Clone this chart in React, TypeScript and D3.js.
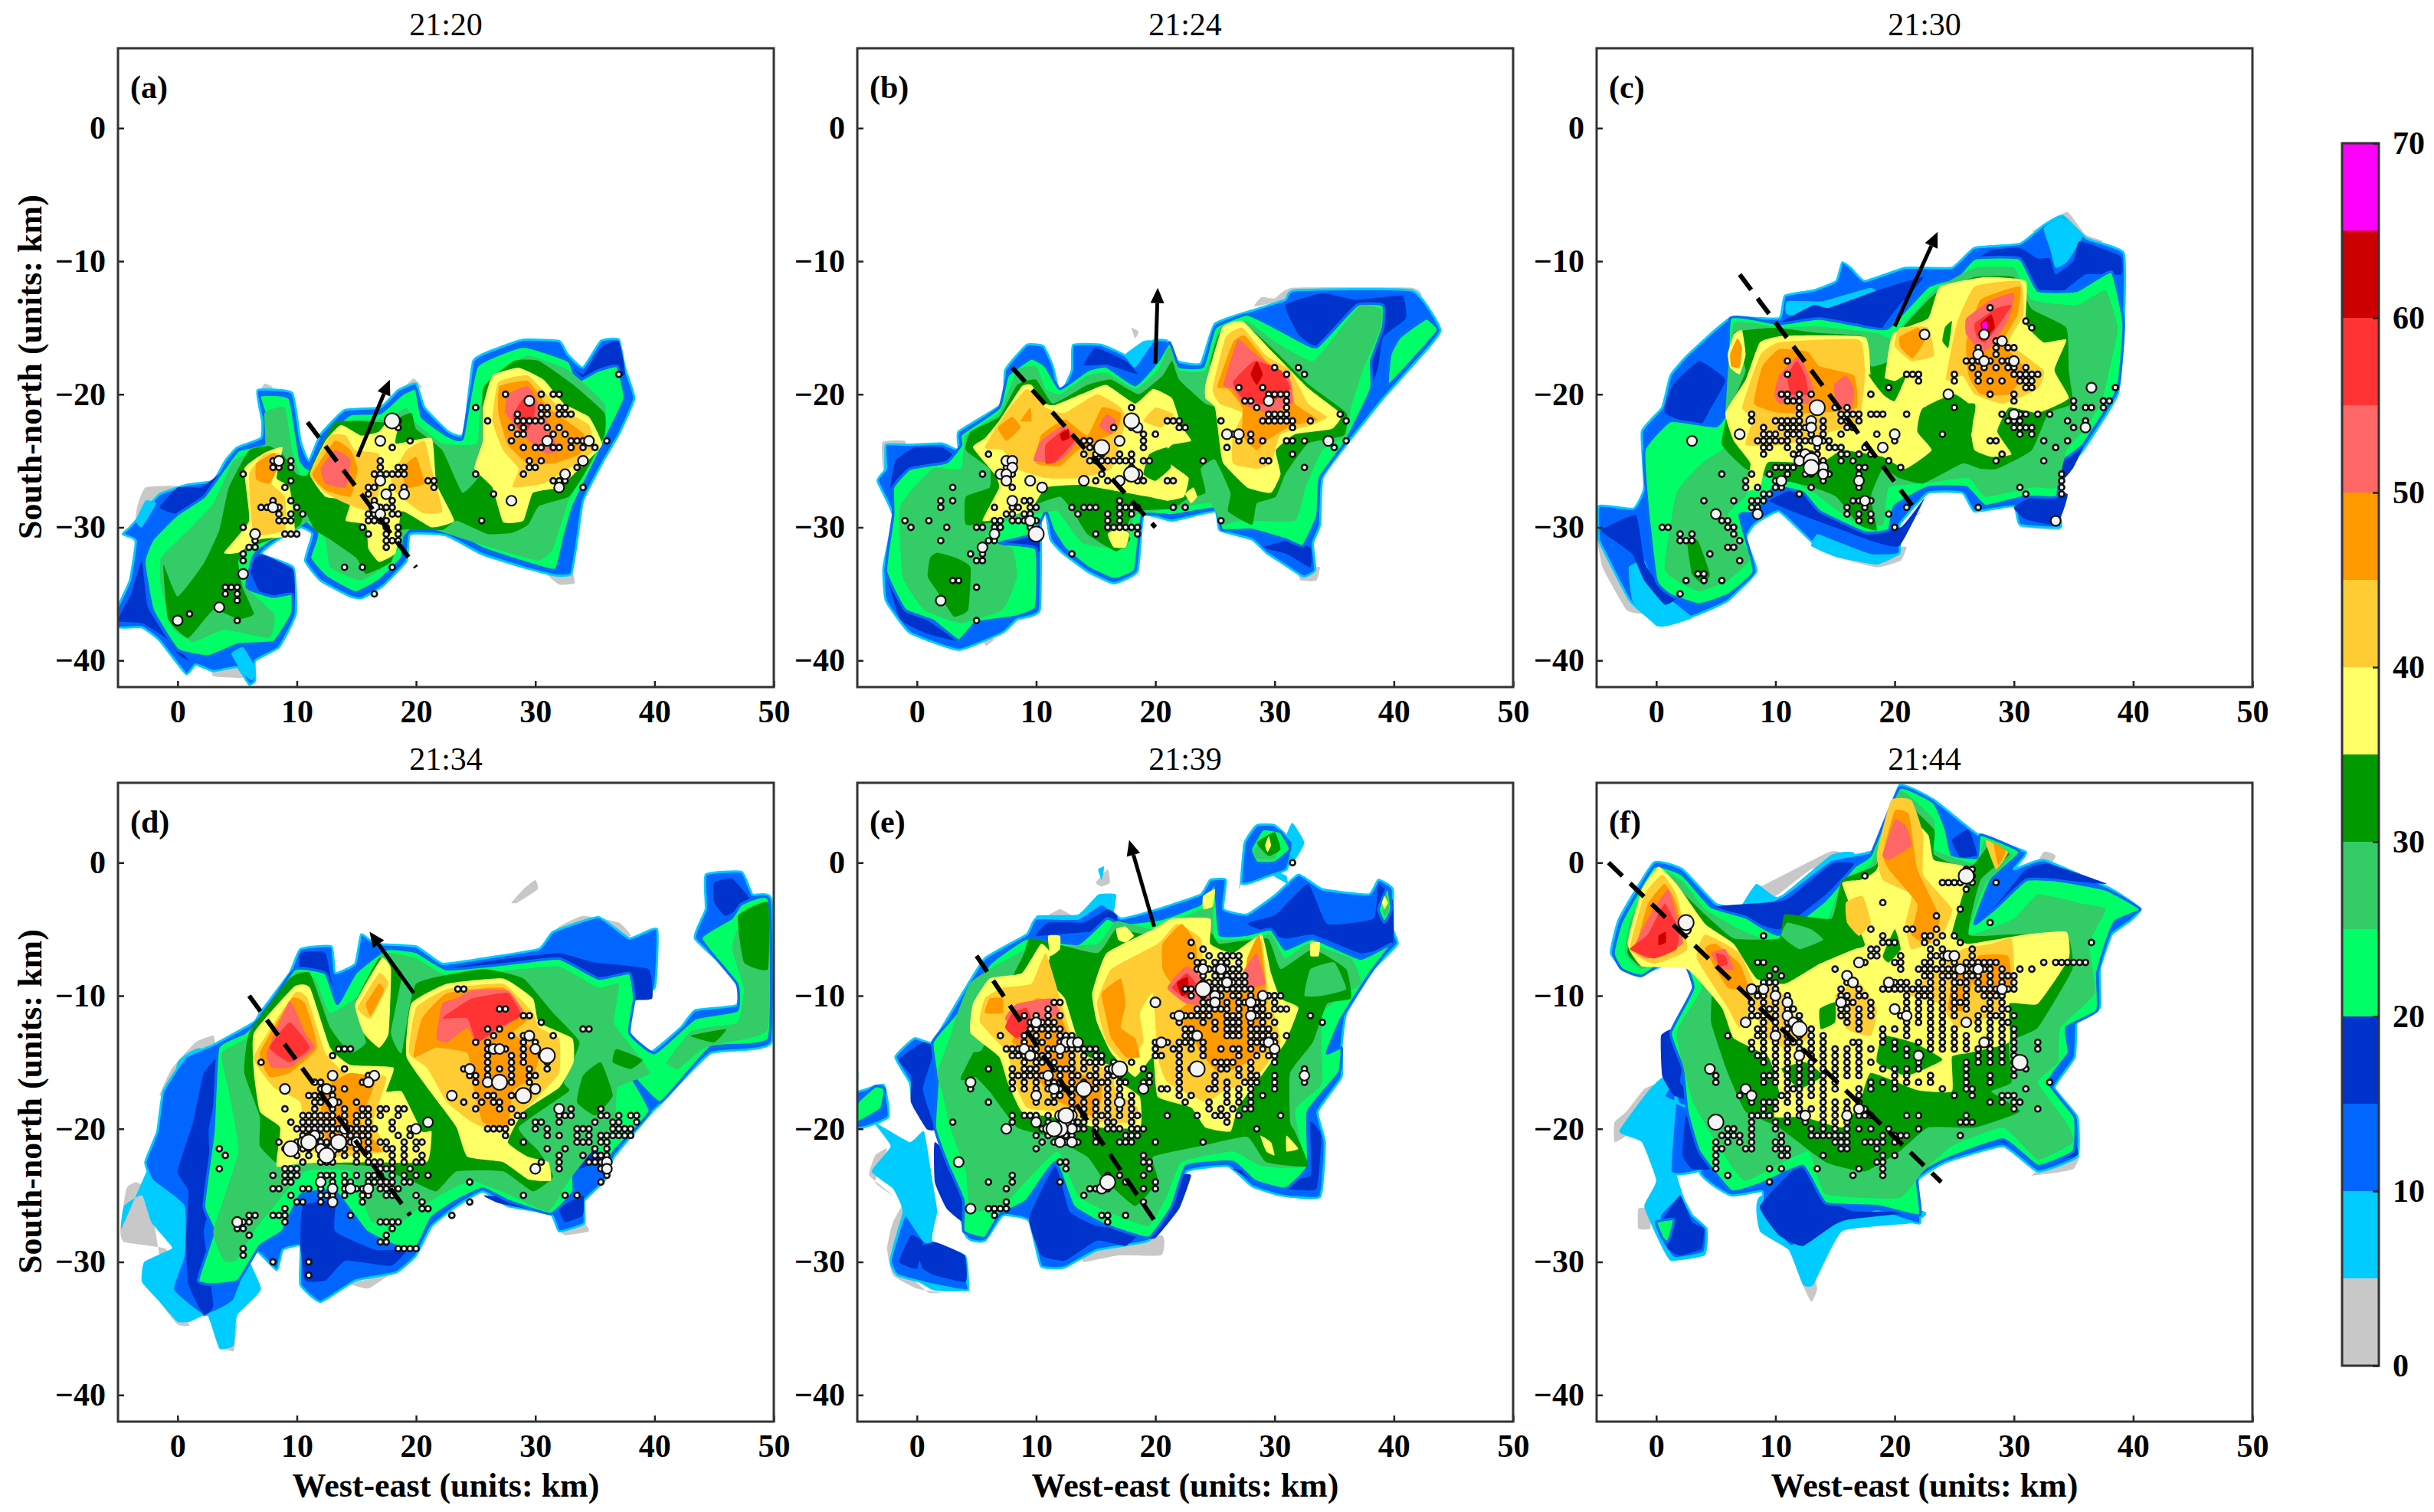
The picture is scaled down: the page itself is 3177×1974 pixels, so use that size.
import React, { useEffect, useRef } from "react";
import * as d3 from "d3";

type Ring = number[][];
type Layer = [number, Ring];
type Rows = number[][];

const xTicks = [0, 10, 20, 30, 40, 50];
const yTicks = [0, -10, -20, -30, -40];
const colorTicks = [0, 10, 20, 30, 40, 50, 60, 70];
const levels = [0, 5, 10, 15, 20, 25, 30, 35, 40, 45, 50, 55, 60, 65];
const levelColors = ["#c8c8c8", "#00ccff", "#0066ff", "#0033cc", "#00ff66", "#33cc66", "#009900", "#ffff66", "#ffcc33", "#ff9900", "#ff6666", "#ff3333", "#cc0000", "#ff00ff"];
const times = ["21:20", "21:24", "21:30", "21:34", "21:39", "21:44"];
const tags = ["(a)", "(b)", "(c)", "(d)", "(e)", "(f)"];
const dashLines = [
  [[10.9, -22.1], [20, -33]],
  [[8, -18], [20, -30]],
  [[7, -11], [22, -29]],
  [[6, -10], [19.5, -26.5]],
  [[5, -7], [20, -27]],
  [[-4, 0], [23.9, -24]],
];
const arrows = [
  [[15.1, -24.7], [17.8, -18.9]],
  [[20, -17.7], [20.2, -12]],
  [[20, -14.9], [23.6, -7.8]],
  [[19.8, -9.8], [16.1, -5.2]],
  [[19.9, -4.8], [17.8, 1.7]],
];

// 21:20 reflectivity contours, [level, outline in km]
const aLayers: Layer[] = [
  [0, [[-3.7, -31], [-3.4, -28.5], [-2.7, -27], [0, -26.9], [0, -28], [-2, -30], [-3, -31.5]]],
  [0, [[31, -33.5], [33, -33.2], [33.3, -34.2], [32, -34.3]]],
  [0, [[3, -40.5], [3, -41.2], [5.5, -41.3], [5.5, -40.5]]],
  [0, [[6.8, -20], [7.3, -19.2], [8, -19.5]]],
  [0, [[19, -19.5], [19.8, -18.8], [20.5, -19.5]]],
  [10, [[-5, -36], [-4, -34], [-3.5, -31], [-4.6, -30.5], [-4, -30], [-3, -29], [-1.5, -27.5], [0.8, -26.8], [3, -26.5], [4, -25], [5, -24], [7, -23.3], [7.1, -22], [6.7, -19.7], [9.6, -19.9], [10.3, -23.5], [11, -25], [12, -23], [14, -21.2], [17, -21], [18.5, -19.7], [20, -19.2], [20.7, -21], [22.7, -22.8], [24, -23], [24.8, -17.5], [27, -16.5], [29, -15.9], [32, -16], [32.7, -17], [34, -18], [35.5, -16], [37, -15.9], [37.5, -18], [38.3, -20.3], [37, -23], [35.7, -25], [34, -28], [33.5, -31], [33, -33.5], [31.6, -33.6], [29, -33], [25.5, -32], [22.5, -30.6], [19.5, -30.5], [19.2, -32.5], [17.2, -34.4], [15.5, -35.3], [14.5, -35.2], [12, -34], [10.7, -32.5], [11.3, -30.5], [10.3, -30], [8.3, -31], [7, -32], [9.7, -33], [9.9, -36.5], [8.5, -39], [6.5, -40], [6.5, -41.5], [6, -41.8], [5, -40.5], [3, -40.8], [1.5, -40.3], [0.7, -41], [-1.5, -38.5], [-3, -37.5], [-5, -37.5]]],
  [15, [[-5, -37], [-3.9, -35], [-3, -32.5], [-2.5, -36], [0, -39.5], [1, -40], [-1, -38.3], [-3, -37.2]]],
  [15, [[-1.5, -28.5], [0, -27], [2, -27], [3.5, -26], [4, -26.5], [2, -28], [0, -29]]],
  [15, [[6, -33], [7, -32], [9.7, -33.2], [9.7, -36], [7, -35]]],
  [15, [[32.5, -17.5], [34, -18.5], [35.5, -16.5], [37, -16], [37.5, -18.5], [35, -19.5]]],
  [5, [[-3.5, -29.5], [-2.7, -28], [-1.8, -28.2], [-3, -30]]],
  [5, [[4.5, -39.5], [5.5, -39], [6.5, -40.5], [6.3, -41.5], [5.5, -41]]],
  [20, [[-2.8, -32.6], [-2.1, -30.9], [0, -29], [2.2, -27.7], [3.9, -25.6], [5.1, -24.2], [7.3, -23.7], [7.6, -22.3], [6.9, -20.1], [9.4, -20.3], [10.3, -24.9], [11.1, -25.6], [12.4, -23.1], [14.5, -21.5], [17, -21.4], [18.8, -20], [20, -19.6], [20.5, -21.7], [22.6, -23.1], [23.9, -23.3], [25.1, -17.9], [29, -16.4], [32.8, -17.5], [33.5, -19], [35.3, -18.2], [36.9, -17.9], [37.5, -20.3], [36.2, -22.8], [35.1, -24.9], [33.2, -28.4], [32.4, -30.9], [31.7, -33.2], [29, -32.6], [25.6, -31.6], [22.6, -30.2], [19.2, -30.2], [18.8, -32.3], [16.9, -34], [14.9, -34.9], [12.4, -33.7], [11.1, -32.3], [11.7, -30.5], [10.3, -29.5], [8.1, -30.9], [6.4, -32.1], [5.8, -34.5], [8, -35.2], [9.6, -35], [9.6, -36.5], [8.1, -38.6], [5.1, -38.8], [2.6, -39.7], [0, -39.2], [-2.1, -36.2]]],
  [25, [[-1.4, -32.3], [0.9, -30.2], [3, -28.2], [4.7, -25], [7.3, -24], [7.3, -21.4], [9, -21], [9.6, -24.2], [10.3, -26], [11.1, -26], [12.8, -22.8], [14.9, -21.9], [17.5, -21.9], [19.2, -21], [19.8, -22], [22.2, -23.7], [25.1, -23.7], [25.4, -20.7], [27.3, -18.2], [29.4, -17.1], [32.8, -18.2], [35.8, -20.7], [35.8, -22.8], [34.7, -25.2], [32.8, -28], [31.5, -31.6], [30.3, -32.5], [27.3, -31.8], [23.4, -30.7], [20, -29.8], [18.8, -30.9], [17.9, -32.6], [15.4, -34], [12.8, -33], [12.4, -30.9], [11.1, -29.5], [9.4, -30.5], [6.4, -31.4], [5.1, -32.6], [5.6, -34.4], [8.1, -36.5], [7.7, -38.3], [3.9, -37.7], [1.3, -38.6], [-0.4, -37.6], [-1.4, -34.4]]],
  [30, [[-1.2, -32.8], [0, -35.2], [2.2, -32.7], [3.5, -30.2], [4.3, -27], [6, -24.2], [7.7, -23.9], [8.8, -24.5], [10, -26], [10.9, -26], [13.2, -22.1], [17.5, -22.1], [19.6, -21.4], [20, -22.6], [22.2, -24.2], [23.9, -27.4], [25.6, -25.6], [25.6, -19.6], [28.2, -17.5], [30.3, -17.5], [33.2, -19.3], [35.8, -21.4], [35.8, -23.1], [34.1, -26], [32.8, -27.7], [30.3, -28.4], [29.4, -29.8], [28.1, -30.4], [26, -30.5], [23.4, -29.5], [22.2, -30.2], [18.8, -30.2], [17.9, -32.6], [15.8, -33.5], [15, -32.3], [12.8, -30.9], [11.5, -30.2], [10.7, -28.8], [10.3, -29.8], [9, -30.5], [6.4, -31.4], [5.1, -32.5], [5.4, -34.4], [6.4, -36.5], [5.1, -36.9], [3, -36.2], [0.9, -38.3], [-0.8, -36.9]]],
  [35, [[3.9, -31.9], [6, -29.5], [5.6, -25.6], [7.3, -24.4], [8.8, -24], [8.3, -26.3], [9.4, -27], [9.8, -30.5], [6.9, -30.9], [5.1, -31.9]]],
  [35, [[11.1, -26], [12.4, -23.5], [13.7, -22.3], [15.4, -23.1], [16.9, -22.8], [17.9, -21.7], [18.6, -22], [18.3, -23.7], [21.3, -23.3], [21.7, -26.7], [23.2, -29.5], [21.3, -30], [18.8, -28.8], [18.3, -31.9], [16.9, -32.6], [16, -31.6], [15.8, -29.8], [14.1, -29.5], [14.5, -28], [12.4, -27.7]]],
  [35, [[24.9, -25.6], [25.6, -23.5], [25.6, -21], [26.4, -18.6], [28.6, -18], [30.7, -18.9], [32.4, -20.7], [34.5, -21.7], [35.6, -23.8], [33.7, -25.6], [32, -27], [29.8, -27.4], [29, -29.5], [27.3, -29.6], [26.4, -27]]],
  [40, [[6.4, -30.5], [6, -26], [7.3, -24.5], [8.6, -24.5], [7.9, -26.7], [9, -27.7], [9, -30.2]]],
  [40, [[11.1, -26], [12.8, -23.1], [14.1, -23.1], [14.9, -24.2], [16.9, -24.5], [17, -27], [16.2, -28.8], [14.1, -28.2], [12.4, -27.4]]],
  [40, [[17.9, -26.3], [19.2, -24.2], [20.7, -23.5], [21.3, -25.6], [22.2, -28.8], [20.5, -28.9], [18.3, -27.4]]],
  [40, [[26.4, -22], [26.9, -19.1], [29.4, -18.6], [32, -21], [34.5, -22.3], [34.9, -24.2], [32.8, -25.6], [30.7, -26.7], [28.1, -27], [28.6, -25.6], [27.3, -24.2]]],
  [45, [[6.6, -25.2], [8.1, -24.4], [8.6, -25.2], [7.7, -26.7], [6.6, -26.4]]],
  [45, [[11.3, -26], [13.2, -23.5], [14.5, -24.2], [15.1, -25.6], [14.5, -27.7], [12.4, -27.2]]],
  [45, [[18.8, -25.6], [20, -24.7], [20.7, -26.7], [19.2, -27]]],
  [45, [[26.9, -21.4], [27, -19.4], [29.4, -19], [31.1, -21], [34.1, -23], [33.7, -24.5], [31.5, -25.2], [29.4, -25.2], [27.7, -23.8]]],
  [50, [[12, -25.6], [13.2, -24.2], [14.5, -24.9], [14.1, -27], [12.4, -26.7]]],
  [50, [[27.5, -21.4], [27.7, -20], [29.4, -19.4], [30.7, -21.4], [32, -24.2], [30.7, -24.4], [29, -23.1]]],
  [55, [[28.1, -21.7], [29, -20.3], [30, -20.7], [29.8, -22], [29, -23.1]]],
];
const aSmall: Rows = [
  [-18.5, 37], [-20, 27.5, 30.5, 31.5, 32], [-21, 25, 30.5, 31, 32, 32.5], [-21.5, 28.5, 30.5, 31, 32, 32.5, 33],
  [-22, 18.5, 26, 28.5, 29, 29.5, 30, 30.5], [-22.5, 28, 29, 31, 32, 18.5], [-23, 28.5, 29, 31.5, 32.5], [-23.5, 19.5, 28, 31, 33, 33.5, 34, 36],
  [-24, 18, 29, 30, 30.5, 31.5, 32, 33, 34, 35], [-25, 8, 9.5, 17, 29.5, 30.5, 34], [-25.5, 8, 8.5, 9.5, 17, 18.5, 19, 29.5, 30, 33.5],
  [-26, 5.5, 16.5, 17, 17.5, 18, 18.5, 19, 25, 29], [-26.5, 9.5, 17, 21, 21.5, 31.5, 32, 32.5], [-27, 9, 16, 16.5, 18, 19, 21.5, 32, 34],
  [-27.5, 16, 26.5], [-28, 8, 9.5, 16.5, 18], [-28.5, 7, 7.5, 8.5, 10, 16.5, 17, 17.5, 18], [-29, 8.5, 9.5, 10.5, 16, 16.5, 17, 18, 18.5],
  [-29.5, 8.5, 9, 9.5, 16, 16.5, 17, 17.5, 25.5], [-30, 5.5, 15.5, 17.5, 18.5], [-30.5, 9, 9.5, 10, 16, 17.5, 18.5], [-31, 6.5, 17.5, 18, 18.5],
  [-31.5, 6, 6.5, 17.5], [-32, 5.5], [-32.5, 5.5], [-33, 14, 15.5, 18], [-34.5, 4, 4.5, 5], [-35, 4, 5, 16.5], [-35.5, 5], [-36.5, 1], [-37, 5],
];
const aMedium: Rows = [
  [-20.5, 29.5], [-22, 18], [-23.5, 17, 31, 34.5], [-25, 8.5, 34], [-26, 32.5], [-26.5, 17], [-27, 32], [-27.5, 17.5, 19], [-28, 28],
  [-28.5, 8, 16.5], [-29, 17], [-30.5, 6.5], [-33.5, 5.5], [-36, 3.5], [-37, 0],
];
const aBig: Rows = [[-22, 18]];

// 21:24
const bLayers: Layer[] = [
  [0, [[-2.8, -26], [-2.9, -23.6], [-1, -23.5], [-1, -24.5], [-2.3, -26]]],
  [0, [[28.3, -13.4], [28.9, -12.7], [30, -12.8], [31.5, -12], [41.5, -12], [42, -12.8], [31, -13]]],
  [0, [[32, -33.5], [32.2, -34], [33.5, -34], [33.8, -33], [33, -33]]],
  [0, [[5.5, -38.3], [5.8, -38.9], [6.5, -38.4]]],
  [0, [[18, -15], [18.3, -15.8], [18.6, -15.3]]],
  [5, [[-2.7, -26], [-2.6, -23.8], [-0.6, -23.8], [-0.5, -25], [-1.8, -25.5]]],
  [5, [[17.5, -17], [19, -16], [19.8, -16], [19.5, -17.5], [18.3, -18]]],
  [10, [[-3.3, -26.5], [-2.6, -25.6], [-2.6, -23.8], [-0.6, -23.8], [2.1, -23.7], [3.5, -24.2], [3.5, -22.8], [7.2, -20.7], [7.4, -18.2], [9.2, -16.3], [10.6, -16.4], [11.4, -17.9], [12, -20], [13, -18.2], [13.1, -16.3], [15.5, -16.3], [17.5, -17.1], [18.3, -17.9], [19.8, -16], [21, -16], [21.8, -17.5], [23.8, -17.7], [25, -14.7], [28.5, -13.6], [30.9, -12.9], [31.7, -12.2], [41.5, -12.2], [43.9, -15.2], [41.9, -17.5], [39.1, -20.3], [36, -23.8], [34, -26.3], [33.8, -29.8], [33.2, -31.2], [33.4, -33.2], [32.4, -33.7], [30.5, -32.6], [29.3, -31.9], [28.1, -30.9], [25.4, -30.2], [25, -28.8], [21.4, -29.5], [19, -29.1], [18.5, -33.3], [16.5, -34.2], [14.3, -33.3], [12.2, -31.9], [11.2, -30.9], [10.8, -28.8], [10.4, -29.1], [10.3, -36.2], [8.4, -36.9], [7.2, -37.9], [3.5, -39.2], [-0.6, -37.9], [-2.6, -35.5], [-2.8, -33], [-2, -29.1]]],
  [15, [[-2.2, -27], [-1.8, -25], [-0.2, -24], [2.1, -24], [3.3, -24.8], [2.5, -25.4], [0, -25.5], [-1, -26.5]]],
  [15, [[-2.6, -33.3], [-1, -34], [0.2, -36.5], [3.3, -38.5], [0.9, -38], [-1.4, -36.9]]],
  [15, [[30.9, -13.3], [34, -12.4], [36.8, -12.9], [40.7, -12.6], [41, -14.3], [39.1, -15.7], [38.7, -17.9], [38, -19.6], [37, -19], [38.5, -15], [38, -13.5], [36.5, -13.5], [33.6, -16.4], [32, -15.5]]],
  [15, [[6.8, -31], [10, -29.5], [10.3, -31.8], [8.5, -31.5]]],
  [15, [[15, -16.5], [17.5, -17.5], [18.5, -18.5], [16, -17.8], [14, -17.8]]],
  [15, [[29, -31.5], [31, -31], [33, -31.5], [33, -33], [31, -32]]],
  [20, [[-2, -27], [-0.6, -25.6], [2.5, -25.1], [3.7, -23.8], [3.7, -23], [6.9, -21], [7.6, -18.6], [9.6, -17.3], [10.8, -17.9], [12, -19.6], [14.3, -18.2], [15.9, -17.9], [18.3, -19.3], [20.2, -17.5], [21.2, -16.1], [22, -17.9], [24, -17.9], [25, -15], [27.7, -14], [30.1, -15], [32.4, -16.1], [33.6, -16.4], [36.9, -13.3], [39.1, -13.3], [39.1, -15], [38.1, -17.5], [38.1, -19.6], [36, -23.5], [33.8, -26.3], [33.6, -29.1], [32.4, -31.4], [30.9, -30.9], [28.1, -30.2], [25.6, -30.2], [25, -28.6], [21.4, -29.1], [18.9, -29.1], [18.3, -33.2], [16.5, -33.9], [14.3, -33], [12.4, -31.6], [11.4, -30.2], [10.8, -28.8], [9.8, -30.5], [6.9, -31.2], [10, -31.6], [10, -36], [8.4, -36.7], [6.9, -36.9], [4.9, -37.2], [3.5, -38.5], [1.3, -37], [-1, -36.2], [-2.6, -33.3], [-2, -29.1]]],
  [20, [[40.5, -15.7], [42.7, -14.3], [43.7, -15.2], [41.5, -17.5], [39.5, -19.3], [39.7, -17]]],
  [25, [[-1.4, -28.4], [1.3, -25.6], [3.7, -25.6], [4.1, -23.1], [6.9, -21.4], [8.4, -18.2], [10, -17.9], [10.8, -19.6], [12, -20], [14.3, -18.6], [15.9, -18.4], [18.3, -19.6], [20.2, -18.2], [21.2, -16.4], [22, -18.2], [24.2, -18.2], [25.4, -15], [27.7, -14.5], [30.1, -16.1], [33.2, -17.5], [35.6, -15], [37.2, -13.3], [38.9, -13.6], [38.9, -15], [37.4, -18.2], [36.4, -21], [36, -23.1], [34, -24.2], [32.6, -27], [31.7, -29.5], [27.3, -29.5], [25.6, -29.8], [24.6, -28.2], [21.4, -28.6], [18.3, -29.1], [17.5, -31.6], [13.9, -31.2], [11.8, -28.8], [9.6, -29.1], [6.5, -29.8], [5.7, -30.9], [8, -31.6], [8.4, -33.7], [7.2, -36.2], [3.7, -37.2], [0.6, -36.2], [-1.2, -33.7]]],
  [30, [[1.1, -32.3], [1.7, -31.9], [3.3, -32.3], [4.5, -33], [4.3, -36.2], [3.1, -36.7], [1.7, -34.8], [0.9, -33.7]]],
  [30, [[4.1, -29.8], [4.1, -27.7], [6.1, -27], [6.1, -25.6], [4.1, -24.2], [4.5, -22.8], [6.9, -21.7], [8.4, -19.3], [10, -18.9], [11.4, -20.7], [14.3, -19.3], [16.3, -18.9], [18.6, -20], [20.6, -18.6], [21.4, -17.5], [22, -18.9], [24.2, -20.7], [26.1, -21], [24.6, -17.9], [25.4, -15.4], [27.7, -14.9], [30.1, -16.8], [32.9, -19.3], [36, -21.4], [35.8, -23.1], [32.8, -23.7], [30.9, -26], [30.1, -27.7], [28.5, -28.2], [28.1, -29.8], [26.1, -28.8], [26.3, -27.4], [25, -24.9], [23.8, -25.6], [24.2, -27.4], [22.6, -27.9], [21.4, -28.6], [18.3, -28.8], [17.5, -30.2], [17.9, -30.9], [16.7, -31.8], [14.3, -30.5], [13.1, -28.8], [12, -27.7], [9.6, -28.4], [6.5, -29.6]]],
  [35, [[4.7, -24], [5.7, -23.3], [6.9, -22], [8.8, -19.4], [9.6, -19.3], [10.8, -20.7], [11.6, -20.8], [14.3, -19.8], [15.9, -19.3], [18.3, -20.7], [19.8, -19.6], [21.4, -20.3], [22.2, -22.4], [23, -23.5], [21.4, -23.8], [20.6, -24.7], [21.8, -25.6], [22.8, -26.3], [22.4, -27.7], [21, -28], [19.4, -27.7], [15.1, -27], [13.5, -26.8], [10.8, -27], [9.6, -28.6], [7.2, -29.3], [5.5, -29.5], [6.9, -27], [6.5, -26]]],
  [35, [[16, -30.5], [17, -30], [17.8, -30.5], [17.5, -31.5], [16.5, -31.5]]],
  [35, [[22.5, -27.5], [23.2, -27], [23.5, -27.7], [23, -28.2]]],
  [35, [[24.2, -19.3], [25.6, -15], [27.3, -14.5], [29.8, -16.8], [32.9, -19.6], [35.6, -21.5], [34.8, -22.6], [31.7, -23], [30.1, -24.2], [30.5, -26], [29.7, -27.4], [27.7, -27], [25.7, -25.2], [25.4, -23.8], [25, -21], [24.2, -20.3]]],
  [30, [[19.5, -24.5], [21, -24], [21.3, -25.5], [20, -26.5], [19, -26]]],
  [40, [[5.7, -24], [7.2, -21.7], [9.2, -19.6], [10.8, -21], [12.4, -21.4], [15.1, -20], [17.1, -21], [17.5, -22], [16.3, -25.6], [13.5, -26.3], [10.8, -26.3], [8.4, -25.6], [7.2, -24.2]]],
  [40, [[19, -22], [20, -21], [21.5, -21.5], [20.5, -22.5]]],
  [40, [[24.8, -19.6], [25.9, -15.7], [27.3, -15], [29.3, -17.1], [31.3, -18.2], [32.8, -20.7], [34.4, -21.7], [33.2, -22.3], [30.5, -23], [29.7, -25.2], [28.5, -25.6], [26.5, -25.2], [26.5, -23.1], [27.3, -21.4], [25.4, -20.7]]],
  [45, [[10, -25.2], [10.4, -23.1], [12.4, -21.9], [14.3, -23.1], [15.5, -21], [17.1, -21.4], [16.7, -22.8], [13.5, -24.2], [12, -25.4]]],
  [45, [[6.8, -22.5], [8, -21.7], [8.7, -22.5], [7.5, -23.5]]],
  [45, [[8.7, -22], [9.5, -21], [9.6, -22]]],
  [45, [[25.2, -19.4], [26.5, -16.1], [27.5, -15.6], [29.3, -17.5], [31.1, -18.6], [31.7, -20.7], [33.6, -21.9], [31.3, -22.4], [29.3, -23.5], [28.5, -24.2], [27.3, -23.1], [27.3, -21], [26.1, -19.6]]],
  [50, [[9.8, -25], [10.4, -23.5], [12.4, -22.3], [13.5, -23.5], [12, -25]]],
  [50, [[15.3, -22.4], [15.9, -21.5], [16.7, -22], [16.3, -23]]],
  [50, [[25.7, -19.3], [26.9, -15.9], [27.9, -16.6], [29.7, -17.9], [31.3, -18.9], [31.5, -20.7], [29.3, -21.4], [27.3, -20.7], [26.5, -19.6]]],
  [55, [[10.8, -25.2], [10.8, -23.8], [12.4, -22.6], [13.2, -23.5], [11.6, -25.1]]],
  [55, [[26.5, -19.1], [28.3, -17.5], [30.5, -18.2], [31.3, -19.6], [29.3, -20.8], [27.3, -20.3]]],
  [60, [[28, -18.5], [28.5, -17.5], [29, -18.5], [28.5, -19.3]]],
  [60, [[12, -23], [12.7, -22.6], [12.8, -23.3], [12.2, -23.5]]],
];
const bSmall: Rows = [
  [-18, 30, 32], [-18.5, 31, 32.5], [-19.5, 27, 29], [-20, 29.5, 30, 30.5, 31], [-20.5, 27.5, 28, 31], [-21, 18, 28.5, 31],
  [-21.5, 29.5, 30, 30.5, 31, 35.5], [-22, 21, 21.5, 22, 25.5, 29, 29.5, 30, 30.5, 31, 31.5, 33, 36], [-22.5, 16.5, 18, 18.5, 22, 22.5, 31.5],
  [-23, 19, 20, 26.5, 28], [-23.5, 14, 14.5, 19, 27, 28, 29, 31, 31.5, 32.5, 36], [-24, 14.5, 15, 15.5, 19, 26, 35], [-24.5, 6, 14, 15, 15.5, 17, 18, 31.5],
  [-25, 7.5, 8, 14.5, 15, 15.5, 16, 16.5, 17, 17.5, 18, 19, 19.5, 24, 29, 29.5], [-25.5, 7.5, 8, 18, 32.5], [-26, 5.5, 7, 7.5, 8, 18, 18.5, 15.5],
  [-26.5, 7.5, 14, 15, 16, 17, 18.5, 19, 21, 21.5], [-27, 3, 8], [-28, 2, 3, 9, 9.5, 17], [-28.5, 2, 6.5, 8, 8.5, 9.5, 10, 13, 14, 14.5, 15, 17, 17.5, 18, 18.5, 21.5, 22.5],
  [-29, 7.5, 8, 9, 9.5, 13.5, 16, 17, 18], [-29.5, -1, 1, 6.5, 7, 8, 8.5, 9, 9.5, 10, 16, 17, 25.5], [-30, -0.5, 2.5, 5, 5.5, 6.5, 7, 9.5, 16, 16.5, 17, 17.5, 18, 18.5],
  [-30.5, 15, 18.5], [-31, 2, 6, 6.5], [-31.5, 5.5], [-32, 4.5, 5.5, 13], [-32.5, 5, 5.5], [-34, 3, 3.5], [-34.5, 5], [-37, 5],
];
const bMedium: Rows = [
  [-20.5, 29.5], [-22, 18], [-22.5, 18.5], [-23, 26, 27], [-23.5, 17, 34.5], [-24, 15.5], [-25, 7.5, 8], [-25.5, 8], [-26, 7, 7.5, 18.5], [-26.5, 7.5, 9.5, 14, 17],
  [-27, 10.5], [-28, 8], [-29.5, 9.5], [-30.5, 6.5], [-31.5, 5.5], [-35.5, 2],
];
const bBig: Rows = [[-22, 18], [-24, 15.5], [-26, 18], [-30.5, 10]];

// 21:30
const cLayers: Layer[] = [
  [0, [[-5, -30.5], [-4, -32.5], [-2, -35.5], [-1, -36.5], [-2.5, -36.2], [-4.5, -33]]],
  [0, [[31.5, -7.8], [33, -7], [34.5, -6.3], [36, -8], [37.5, -8.5], [36, -8.7], [34, -7.5]]],
  [0, [[15, -32.2], [18.5, -33], [20.5, -32.5], [21, -31.5], [20.5, -31.5], [18.5, -32.5]]],
  [0, [[30.5, -30], [33.8, -30.2], [33.8, -29.7], [31, -29.7]]],
  [10, [[-4.8, -28.4], [-1.9, -28.6], [-1, -27], [-1.2, -22.8], [0.5, -21], [1.2, -18.6], [2.6, -17.1], [6.2, -14.3], [10.3, -14.3], [10.8, -12.6], [13.2, -12.2], [15.1, -11.5], [15.6, -10.1], [16.3, -10.5], [17.5, -11.5], [20.9, -10.5], [24.8, -10.5], [26.7, -9], [30.5, -8.7], [32.5, -7.3], [34.1, -6.6], [36.1, -8.3], [39.2, -9.4], [39.2, -15], [38.7, -20], [35.8, -24.2], [34.4, -25.6], [33.7, -28.4], [33.9, -30], [30.5, -29.8], [30, -28.4], [26.7, -28.8], [25.7, -27.4], [22.8, -27.4], [20.4, -29.8], [20.4, -31.9], [18.5, -32.5], [15.1, -31.9], [13.2, -31.2], [10.3, -28.8], [8.2, -29.8], [7.5, -30.9], [8.4, -33.3], [6, -35.5], [3.6, -36.5], [1.4, -37.2], [0, -37.2], [-2.2, -35.5], [-4.3, -31.9], [-4.8, -30.9]]],
  [5, [[32.5, -7.5], [34, -6.7], [35.8, -8], [34.5, -10], [33.5, -10.5], [33, -9]]],
  [5, [[-2.3, -33], [-1, -32.5], [0, -34.5], [2, -36], [3, -36.8], [1, -37.4], [0, -37.4], [-2, -35.5]]],
  [5, [[13.5, -30.5], [15, -31], [18, -32], [20, -32], [20.5, -32], [18.5, -32.8], [15, -32.2], [13, -31.4]]],
  [5, [[11, -13], [14, -13], [18, -12], [19, -13], [15, -14.5], [11, -14]]],
  [15, [[-4.6, -30.2], [-1.7, -29.1], [-1, -32.6], [0, -34], [1.7, -35.3], [0.7, -35.8], [-1, -34], [-2, -32], [-3.5, -31]]],
  [15, [[0.7, -21.4], [1.4, -19.3], [3.6, -17.5], [5.8, -18.9], [4.6, -21], [3.6, -22.4]]],
  [15, [[10.3, -14.7], [13.2, -13.3], [14.5, -13.5], [18.5, -12.2], [22.4, -11.2], [20.4, -13.3], [19, -15], [18.5, -17.5], [18, -16], [17, -14.7], [13.2, -14.5]]],
  [15, [[26.2, -10.3], [28, -9.2], [30.5, -9], [32, -9.8], [33, -9.8], [33.5, -11], [35, -10], [35.5, -8.5], [38.9, -9.6], [39, -11], [36, -11], [33.7, -12.5], [31.5, -12], [30, -10.8], [27, -10.7]]],
  [15, [[9.5, -28], [12, -27], [15, -28], [17.5, -29.5], [20.5, -30], [22.5, -27.8], [20.4, -31.4], [18, -31], [15, -30], [12, -29]]],
  [15, [[30, -28.5], [32, -27.5], [34.5, -27.5], [33.6, -29.8], [31, -29.4]]],
  [15, [[34.3, -24], [36, -23.5], [35, -25.5], [34, -26.5]]],
  [20, [[0, -34], [-0.7, -28.8], [-1, -24.2], [1.2, -22], [5, -22.4], [6, -21], [6.2, -14.3], [10.3, -14.7], [13.7, -14.3], [18, -15], [19.5, -15], [22.8, -11.9], [25.2, -11.2], [26.7, -9.8], [30.5, -9.8], [32, -12.2], [35.3, -12.2], [38.2, -10.8], [39.2, -14.7], [38.7, -19.6], [35.8, -23.8], [33.9, -25.2], [33.6, -27.7], [31, -27.7], [27.6, -28.4], [26, -27], [22.8, -27], [20, -28.4], [19.5, -30.2], [17.5, -30.4], [13.7, -28.8], [12.3, -27.4], [9.9, -27], [8.4, -28.9], [7, -29.1], [8.2, -33.3], [6, -35.1], [3.6, -35.8], [1.2, -35.1]]],
  [25, [[0.7, -33], [1.7, -27.4], [3.8, -25.2], [6, -23.8], [5.8, -21.4], [6.5, -14.7], [10.3, -15], [13.7, -14.9], [18.5, -15.4], [19.7, -15.7], [23.3, -12.2], [26.7, -10.5], [30, -10.5], [31.5, -12.9], [35.3, -13.3], [37.7, -12.2], [38.7, -15], [38, -18.2], [37.3, -20.7], [35.8, -22.8], [34.4, -24.2], [33.6, -27], [31.5, -27], [27.6, -27.7], [26.2, -26.3], [22.4, -26.7], [19.5, -27], [19, -29.8], [16.6, -29.6], [13.2, -27.4], [10.8, -26.3], [7.9, -26.3], [7.5, -27.7], [6, -29.1], [7.9, -32.3], [6, -34], [3.6, -34.8], [1.7, -34]]],
  [30, [[2.6, -31], [3.5, -31], [4.5, -33.5], [4, -34.3], [3, -33.5]]],
  [30, [[6.5, -15.4], [9.9, -15], [13.7, -15.4], [17.5, -15.7], [18, -17.9], [19.5, -17.5], [20, -15.7], [23.3, -12.5], [26.7, -11.2], [30, -11.2], [31.5, -13.6], [34.4, -15], [34.6, -18.2], [34.9, -20.7], [32.9, -21.4], [31.5, -24.2], [28.6, -25.6], [27.2, -25.6], [25.7, -25.2], [22.4, -26.7], [20.4, -26.3], [19, -25.6], [18, -27.7], [18.5, -30.2], [17, -29.8], [15.1, -27.7], [13.2, -27], [9.9, -26.3], [7.5, -25.6], [5.5, -23.8], [6, -21.4], [7.5, -18.2]]],
  [35, [[5.8, -21.4], [7.5, -18.9], [8.7, -16.1], [10.8, -15.6], [17.5, -15.7], [18, -18.6], [19, -19.6], [19.8, -15.5], [22.8, -14.3], [23.8, -11.9], [27.6, -11.2], [31, -11.5], [31, -14.7], [32.5, -16.1], [34.4, -15.9], [33.4, -18.2], [34.6, -20.3], [32, -21.4], [29.6, -21], [28.6, -22.8], [29.8, -24.5], [28.1, -24.7], [26.7, -24.2], [26.4, -22.8], [26.7, -20.7], [22.4, -21], [21.9, -22.8], [23.1, -24.2], [20.9, -25.6], [19, -24.7], [15.6, -24.2], [13.7, -25.2], [9.4, -25.1], [8.7, -27], [7.5, -27.2], [7.9, -25.2], [6.5, -23.5]]],
  [35, [[6, -17], [6.5, -15.5], [7.2, -15.2], [7.5, -17], [7, -18.5], [6.2, -18]]],
  [30, [[22.5, -21], [25, -20], [26.5, -21], [26.4, -23], [24, -24], [22.5, -23]]],
  [30, [[17.8, -18.5], [20, -19], [21, -18.5], [20, -20.5], [19, -20]]],
  [30, [[24.2, -15], [24.8, -14.5], [24.5, -16.5], [24, -16]]],
  [40, [[7.2, -21], [8.7, -17.1], [10.3, -16.1], [17, -15.9], [17.5, -18.6], [17, -22.1], [14.7, -22.8], [10.8, -23.8], [7.5, -23.8], [8.2, -21.7]]],
  [40, [[20.4, -15], [22.8, -15], [23.3, -17.1], [21.4, -17.5], [20, -16.4]]],
  [40, [[24.3, -18.9], [25.2, -14.7], [26.7, -11.9], [30.5, -11.5], [30.8, -14], [29.6, -16.1], [32.5, -18.2], [32, -19.6], [29.1, -20.7], [26.7, -20], [25.7, -18.6]]],
  [45, [[8.2, -20.7], [8.9, -17.9], [10.3, -16.6], [12.7, -16.8], [13.7, -17.9], [16.6, -18.6], [16.8, -21], [13.7, -21.4], [10.3, -21.4]]],
  [45, [[20.4, -15.7], [22, -15], [22.5, -16], [21.5, -17.3], [20.5, -16.5]]],
  [45, [[6.2, -17], [6.8, -15.8], [7.2, -16.5], [7, -18], [6.3, -17.9]]],
  [45, [[26.2, -18.6], [26, -16.1], [27.2, -12.9], [30.5, -11.9], [30.3, -14], [29.1, -16.1], [31, -18.2], [29.6, -20], [27.2, -20]]],
  [50, [[9.9, -20], [10.3, -18.6], [12, -17.1], [13.2, -19.6], [12.7, -20.7], [10.3, -20.7]]],
  [50, [[14.9, -19.3], [15.9, -18.6], [16.6, -19.6], [16.3, -21.4], [15.1, -20.7]]],
  [50, [[26, -14.3], [28.1, -12.9], [30, -12.4], [29.6, -14.3], [28.1, -16.4], [27.2, -16.8], [26, -15.5]]],
  [55, [[11, -18.6], [11.8, -17.5], [12.5, -18.6], [12.7, -20], [11.3, -20]]],
  [55, [[26.7, -14.7], [28.6, -13.5], [29.8, -13.3], [29.1, -14.3], [27.6, -16.1], [26.9, -15.7]]],
  [60, [[27.2, -14.7], [28.1, -14], [28.4, -15], [27.6, -15.7]]],
  [65, [[27.3, -14.7], [27.7, -14.5], [27.8, -15], [27.5, -15.3]]],
];
const cSmall: Rows = [
  [-13.5, 28], [-14.5, 31], [-15, 31.5], [-15.5, 27.5], [-16, 28.5], [-16.5, 27, 28.5, 29.5, 30], [-17, 28.5],
  [-17.5, 11, 26, 26.5, 27, 27.5, 28, 29, 29.5, 30], [-18, 26.5, 27.5, 28.5, 29.5, 30, 31], [-18.5, 11, 21, 21.5, 22, 25, 27, 30, 30.5, 31, 31.5, 32],
  [-19, 22, 25, 27, 28, 29, 30.5, 31, 31.5], [-19.5, 19.5, 31, 31.5, 38.5], [-20, 10.5, 11, 12, 13, 18, 28, 30], [-20.5, 11, 11.5, 12, 30, 35, 37.5, 38],
  [-21, 12, 15, 16, 25, 35, 36, 36.5, 37.5], [-21.5, 8, 12, 15.5, 16, 16.5, 17, 18, 18.5, 19, 21, 29, 30, 30.5, 31, 32, 33],
  [-22, 8, 10, 10.5, 11, 11.5, 12, 13, 14, 15.5, 16, 17, 29.5, 30, 30.5, 34.5, 36], [-22.5, 9, 10.5, 11, 11.5, 12, 12.5, 13, 14, 16, 16.5, 30, 30.5, 31, 31.5, 35],
  [-23, 9, 9.5, 10, 11, 11.5, 12, 13, 14, 15.5, 18.5, 20, 24, 30.5, 31.5], [-23.5, 8.5, 9, 9.5, 10, 10.5, 11, 12, 12.5, 13, 13.5, 14, 14.5, 20, 28, 28.5, 32.5, 34.5],
  [-24, 9, 9.5, 11, 12, 13.5, 14.5, 15, 15.5, 17.5, 19, 33.5], [-24.5, 9, 11.5, 12, 13, 13.5, 15.5, 16, 17, 18, 29], [-25, 12, 12.5, 14, 15.5, 16.5, 28.5, 19.5, 32.5],
  [-25.5, 10, 10.5, 11, 11.5, 13, 14, 17, 17.5, 20.5], [-26, 5.5, 8, 9.5, 11, 12.5, 13, 14.5, 17, 34], [-26.5, 7.5, 10, 10.5, 14, 34], [-27, 7.5, 8.5, 10, 10.5, 13, 17, 30.5, 34],
  [-27.5, 9, 9.5, 12, 31, 34], [-28, 4, 6.5, 8, 8.5, 9, 16.5, 17, 17.5, 18], [-28.5, 8, 8.5, 16, 17.5, 21, 27], [-29, 5, 8.5, 16, 17, 18, 19.5], [-29.5, 5.5, 6, 17, 18],
  [-30, 0.5, 1, 6, 6.5, 20], [-30.5, 2, 6.5, 3], [-31, 2, 2.5, 3, 7], [-31.5, 6, 6.5], [-32, 4.5], [-32.5, 7], [-33.5, 3.5, 4], [-34, 2.5, 4, 5.5], [-35, 2],
];
const cMedium: Rows = [
  [-15.5, 22.5, 27.5], [-16, 29], [-17, 27], [-17.5, 30, 27.5], [-19.5, 36.5], [-20, 24.5], [-21, 13.5], [-21.5, 30], [-22, 13], [-22.5, 13, 36], [-23, 7, 20], [-23.5, 3, 13.5],
  [-24, 19], [-24.5, 12.5], [-25, 12], [-25.5, 14], [-26, 14], [-26.5, 10.5, 17], [-28, 17.5], [-29, 8.5, 5], [-29.5, 33.5],
];
const cBig: Rows = [[-21, 13.5], [-25, 13], [-25.5, 13]];

// 21:34
const dLayers: Layer[] = [
  [0, [[-4.3, -24.5], [-3.5, -24], [-2.5, -24.5], [-3, -25], [-2, -27], [-1.5, -29.5], [-0.5, -30.5], [-1, -29], [-4.5, -28.5], [-4.8, -27.5]]],
  [0, [[-1.5, -17.5], [-0.5, -15.5], [1.5, -13.5], [3, -13], [3, -14], [0, -17]]],
  [0, [[28, -3], [29, -2], [30, -1.3], [30.2, -2], [28.5, -3]]],
  [0, [[30, -7], [31, -6], [32, -4.8], [34, -4], [37, -4.5], [38, -5.5], [36, -6], [32, -7]]],
  [0, [[14, -31.5], [16, -31.3], [18, -29.5], [20, -29.3], [18.5, -30.5], [16, -32]]],
  [0, [[-1.5, -33], [0, -34.7], [1, -34.8], [0.5, -34], [-1, -33]]],
  [0, [[3.5, -36.3], [4.7, -36.7], [5, -34.5], [4.5, -35.5]]],
  [0, [[32, -27.5], [34, -27], [34.5, -27.7], [32.5, -28]]],
  [5, [[-4.7, -27.5], [-4.5, -25.8], [-3, -25], [-2.2, -27], [-0.8, -28.5], [-0.5, -29], [-2.8, -30], [-3, -31.5], [-1.5, -33], [0, -34.5], [1, -34.5], [2.5, -34], [3.5, -36.5], [4.7, -36.3], [5, -34], [7, -32], [5, -28], [2, -20], [2, -14], [0, -15], [-1, -20], [-1.5, -22], [-2.5, -23]]],
  [10, [[-2.7, -22.5], [-1.7, -20.2], [-1.2, -17.2], [0.7, -14.6], [3, -13.7], [6.4, -12], [6.9, -11.3], [9.4, -8.3], [10.3, -6.5], [12.9, -6.3], [13.2, -8.3], [14.9, -7.6], [15.4, -5.4], [16.6, -6.1], [20, -6.3], [22.2, -7.6], [25.6, -7.2], [30.3, -6.5], [31.5, -5.2], [35.3, -4.1], [37.9, -5.7], [40.2, -5], [40, -9.4], [37.9, -10.6], [37.9, -13.2], [39.6, -14.3], [42.2, -12.4], [43.4, -11.1], [46.9, -10.7], [46.9, -8.7], [43.4, -5.7], [44.3, -3.5], [44.3, -0.9], [47.3, -0.7], [48.2, -2.4], [49.8, -2.8], [49.8, -13.5], [44.7, -14.3], [40.4, -18.2], [39.8, -18.7], [36.6, -22.1], [35.8, -23.9], [34.1, -25.4], [34.1, -27.1], [32, -27.7], [31.3, -26.4], [27.7, -25.8], [25.6, -24.7], [23.4, -25.8], [21.3, -27.3], [20, -29.5], [18.3, -30.8], [14.9, -31.4], [12, -33], [10.3, -31.7], [10.3, -28.8], [8.8, -29.1], [8.3, -30.6], [6.4, -29.1], [4.7, -32.9], [2.2, -34], [-0.4, -32.1], [0.5, -29.5], [0.5, -25.8], [-2.1, -23.9]]],
  [15, [[0, -23.2], [1.3, -19.5], [2.2, -15.8], [3.9, -14.3], [2.6, -20.2], [3, -25], [2.2, -27.7], [3, -33.2], [2.2, -34], [0.9, -31.7], [0.7, -28.4], [0.9, -24.7]]],
  [15, [[10.5, -25.8], [13.2, -25.4], [13.2, -27.7], [16.6, -29.1], [19.2, -29.1], [17.9, -30.3], [14.1, -29.9], [12.4, -31.4], [10.7, -31.4], [10.3, -28.8]]],
  [15, [[10.3, -6.8], [12.4, -6.8], [13.2, -10.6], [12.4, -8.3], [10.3, -8]]],
  [15, [[22.6, -8], [27.7, -7.2], [32, -6.8], [35, -7.5], [39.5, -8], [39.8, -10.2], [38, -10.3], [35.5, -9.7], [32, -8.5], [28, -8.5]]],
  [15, [[45, -1.5], [46.5, -1.2], [48, -2.8], [46, -4], [45, -3]]],
  [15, [[32, -26], [34, -25], [34, -26.5], [32.5, -27]]],
  [15, [[25.7, -25], [30, -25.5], [31, -26.3], [27, -25.6]]],
  [20, [[1.7, -31.4], [3, -27.7], [2.2, -25.8], [3, -20.2], [3.4, -13.9], [5.6, -12.8], [7.3, -11.3], [9.8, -8], [12.4, -8.3], [13.4, -10.6], [14.9, -8.3], [17.5, -6.5], [20, -6.7], [22.6, -8], [27.7, -7.6], [32, -7.2], [35.3, -8.7], [37.9, -8.3], [38.3, -10.2], [37.9, -12.8], [40, -14.3], [43.4, -11.7], [46.9, -11.1], [46.9, -9.1], [43.9, -5.7], [46.4, -4.2], [47.3, -3.1], [49.6, -2.8], [49.6, -13.2], [44.7, -13.9], [40.5, -18], [37.9, -15.8], [39.6, -18.7], [36.6, -21.7], [35.8, -23.6], [34.9, -21.7], [33.2, -22.5], [33.2, -24.7], [31.3, -26.4], [27.7, -25.4], [25.6, -24.5], [23.4, -25.4], [21.3, -26.7], [20, -29], [18.3, -28.8], [15.8, -27.7], [13.2, -24.7], [10.3, -25], [8.8, -27.7], [6.9, -28.8], [5.1, -31.4], [3, -31.7]]],
  [15, [[33.5, -21.5], [35, -21.5], [36, -22.5], [35.7, -23.5], [35, -22.5], [33.7, -23]]],
  [25, [[3.9, -29.9], [3, -27.7], [5.1, -21.7], [4.3, -17.2], [3.7, -14.3], [6.4, -12.8], [9.8, -8.3], [11.5, -8.7], [12.8, -11.3], [15.4, -9.8], [17.1, -6.8], [20, -7.2], [22.6, -8.5], [27.7, -8.1], [32, -7.8], [35.3, -9.4], [37, -9.1], [36.6, -12], [37.5, -13.2], [39.6, -15.8], [36.9, -16.9], [36.6, -19.5], [32.8, -23.9], [31.1, -26.2], [27.7, -24.9], [24.7, -23.9], [22.6, -24.7], [20.5, -25.8], [18.3, -27.3], [16.2, -26.9], [14.5, -23.2], [10.7, -23.2], [8.1, -25.8], [6.4, -27.7], [4.9, -29.9]]],
  [25, [[41, -15], [43, -12.7], [45, -12.3], [47, -12], [47.5, -9.5], [46.5, -6.5], [47, -5], [49.5, -3.5], [49.5, -12.5], [46, -13.5], [44, -14], [42, -15.5]]],
  [30, [[6, -12.8], [9.4, -8.7], [11.1, -8.3], [12.8, -12.4], [14.5, -14.3], [15.8, -13.5], [14.9, -10.6], [16.9, -7.2], [18.8, -8.3], [17.9, -12.8], [18.8, -14.3], [20, -9.1], [25.6, -8], [29, -8.7], [31.5, -11.3], [33.7, -13.5], [32.4, -16.5], [32.8, -17.2], [28.6, -19.9], [30.3, -21.7], [31.5, -23.6], [29.8, -24.7], [27.3, -23.2], [23.4, -23.2], [21.7, -24.7], [19.6, -23.9], [16.2, -22.8], [10.3, -22.6], [8.6, -22.8], [6.9, -21.3], [6.9, -19.1], [5.6, -15.8]]],
  [30, [[36.8, -14], [39, -14.8], [38, -15.5], [36.5, -15]]],
  [30, [[47, -4], [49.5, -3], [49.5, -8], [47.5, -7.5]]],
  [30, [[43, -13], [46, -12.5], [45, -13.5]]],
  [30, [[34, -16], [35.5, -15], [36.5, -17.5], [35, -19], [33.5, -18]]],
  [35, [[6.4, -12.8], [9.8, -9.3], [11.1, -9.4], [12.8, -13.9], [14.5, -15.2], [18.1, -15.4], [17.5, -17.2], [18.8, -17.2], [20.5, -20.2], [21.3, -20.2], [20.9, -22.5], [16.2, -22.5], [10.3, -22.6], [8.3, -22.8], [8.6, -19.9], [6.9, -18.7], [6.4, -15.8]]],
  [35, [[14.9, -10.6], [17.1, -7.2], [17.9, -8], [17.7, -12.8], [16.9, -13.9], [15.6, -12.8]]],
  [35, [[19.2, -14.6], [19.6, -10.6], [22.6, -9.1], [27.3, -8.7], [29.8, -10.2], [30.3, -12], [33.1, -13.2], [33.2, -15], [32, -16.9], [29, -18.7], [27.7, -21], [29.4, -22.1], [31.1, -22.5], [31.3, -23.9], [29.4, -23.8], [27.3, -22.5], [24.3, -22.1], [23.4, -19.9], [22.2, -18.4]]],
  [40, [[6.4, -14.6], [9.8, -9.8], [10.9, -10.2], [12.4, -14.3], [14.1, -15.8], [17.5, -16.1], [16.4, -19.5], [17.5, -21.7], [12.8, -22.1], [10.7, -21.3], [10.3, -18], [8.1, -16.9]]],
  [40, [[15.1, -10.9], [16.9, -8.3], [17.7, -9.1], [16.2, -11.7]]],
  [40, [[19.4, -14.3], [20, -10.9], [22.6, -9.5], [27.3, -9.1], [29.8, -11.3], [30.3, -12.4], [32, -13.2], [32, -15.8], [29.8, -18], [26.9, -20.2], [24.7, -19.5], [22.6, -18], [20.9, -15.4]]],
  [45, [[6.9, -14.3], [9.6, -10.2], [10.7, -10.6], [11.7, -13.9], [9.4, -15.8], [7.7, -16.1]]],
  [45, [[12.4, -16.9], [14.5, -15.8], [16.6, -16.3], [15.4, -19.5], [17.1, -21.7], [12.8, -21.3], [12, -19.1]]],
  [45, [[15.8, -10.6], [16.9, -9.1], [17.3, -9.6], [16.2, -11.5]]],
  [45, [[19.8, -14.6], [20.5, -11.7], [22.6, -9.8], [27.3, -9.4], [29.4, -11.7], [28.1, -12.8], [30.3, -14.3], [29.8, -16.1], [28.1, -17.2], [27.7, -19.9], [25.6, -19.5], [24.7, -16.5], [24.3, -14.3], [21.7, -13.9]]],
  [50, [[7.5, -14.3], [9.4, -10.4], [10.7, -12.8], [11.5, -13.9], [9.4, -15.4], [7.9, -15.4]]],
  [50, [[21.7, -13.2], [22.2, -10.6], [23.4, -10.2], [24.7, -9.6], [27.7, -9.6], [29, -11.3], [27.3, -12.4], [25.1, -13.5], [24.3, -12.4], [22.6, -13.5]]],
  [55, [[7.7, -13.9], [9.4, -12], [11.1, -13.9], [9.4, -15]]],
  [55, [[22.2, -11.7], [23.4, -10.9], [24.7, -10.2], [27.7, -9.8], [28.8, -11.5], [26.9, -12.4], [25.1, -13.5], [24.3, -11.7]]],
];
const dSmall: Rows = [
  [-9.5, 23.5, 24], [-11, 27, 27.5], [-11.5, 29, 29.5], [-12, 30.5], [-12.5, 26, 27, 34, 34.5], [-13, 26.5, 28, 29, 31.5], [-13.5, 25, 26, 29, 30],
  [-14, 13.5, 14, 14.5, 26, 27, 27.5, 29, 30], [-14.5, 13, 26, 28, 29, 30.5], [-15, 7, 26, 28, 29, 31], [-15.5, 14, 24, 26, 27, 28, 29.5, 31],
  [-16, 13, 16, 24.5, 25, 26, 28, 29.5, 30], [-16.5, 11.5, 12, 15.5, 25, 26, 27, 28, 29.5], [-17, 9, 12, 13, 14],
  [-17.5, 11, 11.5, 12, 13, 25, 26, 26.5, 28, 28.5, 29], [-18, 11.5, 12, 13, 13.5, 15, 24, 25.5, 26.5, 27], [-18.5, 9, 11.5, 13, 14, 15.5, 16, 17, 17.5, 18.5, 19, 25, 27, 28, 32, 33, 35.5],
  [-19, 10.5, 11, 11.5, 12, 12.5, 13, 14, 15, 15.5, 16, 17, 18.5, 28.5, 29, 32, 32.5, 33, 35.5, 36, 37, 38, 38.5],
  [-19.5, 9.5, 10.5, 11, 11.5, 12, 12.5, 13, 14, 15, 16, 18, 21, 28, 30, 30.5, 32, 35, 36.5, 37, 38.5],
  [-20, 10, 10.5, 11, 11.5, 12, 12.5, 13, 13.5, 14, 14.5, 15, 15.5, 16, 16.5, 18, 19.5, 20, 26, 26.5, 27, 27.5, 30, 31, 33.5, 34, 34.5, 36.5, 37, 37.5, 38],
  [-20.5, 10.5, 11, 12, 13, 14, 14.5, 15, 15.5, 16, 18.5, 19.5, 27.5, 31, 32, 33.5, 34.5, 35.5, 36, 36.5, 37, 37.5, 38],
  [-21, 8.5, 10, 10.5, 11, 12, 12.5, 13, 14, 14.5, 15, 16, 17, 17.5, 19, 20, 20.5, 29, 33.5, 34, 34.5, 35.5, 36],
  [-21.5, 3.5, 9, 9.5, 10.5, 11, 12, 12.5, 13.5, 14, 15, 16, 17.5, 18, 19, 20, 31, 32.5, 35, 36],
  [-22, 4, 10, 11, 12, 12.5, 13, 14, 15, 16, 18, 19, 20.5, 32, 34, 35, 35.5, 36], [-22.5, 10.5, 12, 12.5, 13, 15, 16, 16.5, 17, 18, 19, 20, 20.5, 30.5, 32, 34.5, 35, 35.5, 36],
  [-23, 3.5, 9, 9.5, 10, 17, 17.5, 18, 19.5, 30, 32, 35.5, 36], [-23.5, 8, 9, 9.5, 10, 12, 12.5, 13, 14, 15, 16, 16.5, 17, 18, 19, 20, 21, 36],
  [-24, 9, 9.5, 12, 13, 14, 14.5, 16, 16.5, 17, 17.5, 18, 19, 19.5, 24.5, 35.5], [-24.5, 8, 8.5, 10.5, 11, 12, 13, 14, 15, 15.5, 16, 17, 17.5, 18, 18.5],
  [-25, 9.5, 12, 12.5, 13, 14, 15.5, 16, 17.5, 18, 20, 29, 32.5, 33.5], [-25.5, 10, 10.5, 12, 13, 15.5, 20.5, 24.5], [-26, 9, 20.5, 21],
  [-26.5, 6, 6.5, 8, 8.5, 9, 14.5, 23], [-27, 5, 5.5, 6, 9, 17, 17.5, 18, 18.5], [-27.5, 5, 5.5, 18], [-28, 6, 17.5], [-28.5, 17, 17.5], [-29, 5.5, 18.5, 19, 19.5, 20], [-29.5, 5.5], [-30, 8, 11], [-31, 11],
];
const dMedium: Rows = [
  [-13, 29.5], [-14, 26.5, 27, 30], [-14.5, 31], [-15.5, 24.5], [-16, 13, 16.5], [-16.5, 16, 26, 27], [-17, 12.5, 30, 9], [-17.5, 23, 29], [-18, 13], [-18.5, 32],
  [-19.5, 21], [-20, 14, 20], [-21, 10.5, 11, 13.5, 15], [-20.5, 11.5], [-21.5, 9.5, 12, 13], [-22, 12.5], [-22.5, 36], [-23, 36, 30], [-24, 12], [-24.5, 13, 14.5, 16], [-25.5, 13], [-27, 5],
];
const dBig: Rows = [[-21, 11, 13.5], [-22, 12.5], [-21.5, 9.5], [-16.5, 27], [-17.5, 29], [-14.5, 31]];

// 21:39
const eLayers: Layer[] = [
  [0, [[-4, -23.5], [-3.5, -22], [-2.5, -21.5], [-3.5, -24], [-2, -25]]],
  [0, [[-2.5, -29], [-2, -27], [0, -24], [1.3, -25], [1, -28], [-0.5, -31], [1, -32.3], [2, -32.3], [0, -32], [-2, -31]]],
  [0, [[14, -29], [20.5, -28], [20.5, -29.5], [17, -29.5], [14, -30]]],
  [0, [[15, -1.5], [16, -0.5], [16.2, -1.5], [15.5, -1.8]]],
  [0, [[27, -2], [27.3, 0], [27.3, 1.5], [27, 2], [28, 0]]],
  [0, [[34, -2], [37, -2.5], [35, -3]]],
  [0, [[11, -4], [12, -3.5], [13, -4]]],
  [5, [[-3.8, -23.2], [-2.2, -21.3], [-3.6, -19.5], [-0.6, -21], [0.6, -20.2], [1.3, -23.9], [1.7, -26.2], [1.3, -28.4], [4.1, -29.5], [4.3, -32.1], [1.3, -32.1], [-2.2, -29.9], [-1.2, -26.2], [-2, -24.5]]],
  [5, [[10, -4], [13.5, -3.9], [15.2, -2.4], [16.7, -2.4], [16.3, -4.2], [13.5, -5.4], [11, -5.5]]],
  [5, [[29, -0.5], [31, -1], [31.3, -3], [33, -1], [32, -2]]],
  [5, [[15.2, -0.5], [15.7, -0.3], [15.5, -1.3]]],
  [5, [[31, 2], [31.5, 3], [32.5, 1.5], [31.5, 0]]],
  [10, [[-1.8, -14.6], [-0.2, -13.2], [1.3, -13.5], [3.3, -10.6], [5.7, -7.2], [9.2, -5.4], [10, -4.2], [13.5, -4.2], [15.5, -3.1], [17.1, -4.2], [20.2, -3.5], [23.8, -2.4], [24.6, -1.3], [25.9, -1.3], [25.7, -3.5], [27.7, -3.9], [30.1, -2.4], [32, -0.9], [34, -2], [37.9, -2.4], [38.7, -1.3], [39.9, -2], [39.9, -5], [40.3, -6.1], [38.3, -8], [36, -11.3], [35.6, -13.9], [35.6, -16.1], [33.6, -18.7], [34.2, -21], [33.8, -25.1], [30.5, -25], [28.1, -24.3], [26.1, -22.8], [22.6, -23.2], [21.8, -25.8], [19.4, -28.4], [15.1, -29.1], [12.4, -30.4], [10.4, -30.3], [9.4, -26.9], [7.2, -26.5], [5.7, -28.4], [4.1, -28], [1.7, -20.2], [-0.2, -18.4], [-0.6, -16.5]]],
  [10, [[-2.2, -29.9], [-1, -26.5], [0.6, -28.4], [3.3, -29.5], [4.3, -32.1], [1.3, -31.7], [-1.6, -31]]],
  [10, [[-5, -15.8], [-5, -17.2], [-2.8, -16.7], [-2.4, -19.1], [-5, -19.9]]],
  [10, [[27.2, -1.5], [27.5, 1.5], [28.5, 2.8], [30, 2.8], [31.5, 1.5], [31, -0.5], [29.5, -1], [28, -1.5]]],
  [15, [[-1.5, -14.8], [0.5, -13.5], [1.5, -14], [0.5, -17], [1.5, -20], [0.8, -20], [-0.5, -18], [-0.5, -16]]],
  [15, [[-1.5, -30], [-0.5, -28], [0.5, -28.5], [0, -30.5]]],
  [15, [[0, -29], [1.5, -28.5], [4, -29.5], [4.1, -31.5], [1.5, -31], [0.5, -30.5]]],
  [15, [[1.5, -21], [3.5, -23], [4, -27], [2.5, -26], [1.5, -24]]],
  [15, [[9.4, -26.7], [11.6, -22.8], [12.8, -26.2], [15.1, -27.3], [18.7, -27.7], [17.5, -28.8], [15.1, -28.4], [12.4, -29.9], [10.4, -29.5]]],
  [15, [[30.1, -3.9], [32.8, -1.6], [34.4, -4.6], [38.3, -4.2], [38.7, -1.6], [39.9, -2.8], [39.9, -6.1], [37.2, -6.8], [33.2, -5.4], [30.9, -5.7], [27.7, -4.6]]],
  [15, [[26.5, -23], [28.5, -24], [31, -24.5], [33.5, -24.5], [33.9, -20.5], [33, -19.5], [33, -23.5], [30.5, -23.8], [28.5, -23.3]]],
  [15, [[11, -4.5], [14, -4.5], [16, -3.5], [16.8, -4], [16.5, -5], [13, -5.3], [10, -5.5]]],
  [15, [[19, -28], [21, -25], [22, -23.5], [23, -23.5], [22, -26], [20, -28.2]]],
  [20, [[1.3, -13.5], [3.3, -11.3], [6.1, -7.6], [9.2, -5.7], [13.5, -6.1], [15.9, -4.2], [17.1, -4.6], [20.6, -4.2], [23.8, -3.1], [25, -1.6], [25.4, -5.4], [27.7, -5.4], [29.7, -5], [30.9, -6.5], [33.2, -5.7], [37.2, -7.2], [39.8, -6.1], [38, -8.3], [35.6, -11.7], [34.4, -14.3], [35.6, -13.9], [35.4, -15.8], [32.8, -18.7], [32.8, -22.8], [30.9, -24.5], [28.3, -23.9], [26.5, -22.5], [22.6, -22.8], [21.4, -25.8], [19.4, -28.2], [15.5, -27.1], [13.1, -25.8], [11.6, -22.5], [9.2, -25.4], [6.9, -26.5], [5.7, -28.2], [3.9, -27.7], [3.9, -25.4], [2.5, -22.5], [1.5, -19.9], [1.7, -16.5]]],
  [20, [[-5, -18], [-3.5, -16.8], [-2.7, -17], [-3, -18.5], [-5, -19.5]]],
  [20, [[28, 1], [29, 2.5], [30.5, 2.3], [31.3, 1], [30, 0], [28.5, 0]]],
  [20, [[38.7, -3.5], [39.5, -1.8], [39.8, -3.5], [39.2, -4.5]]],
  [25, [[1.7, -15.8], [2.9, -12.8], [4.5, -9.1], [9.2, -6.5], [15.1, -6.1], [16.7, -4.4], [19.8, -5], [23.8, -3.5], [24.8, -2.4], [25, -5.7], [28.1, -5.7], [29.7, -5.4], [30.9, -7.2], [32.8, -6.1], [36.4, -7.2], [37.2, -9.1], [34, -11.3], [34, -16.5], [32.8, -17.6], [31.7, -18.7], [32.4, -22.8], [28.9, -22.8], [26.5, -21.7], [22.2, -22.5], [21, -25], [19.4, -27.3], [15.9, -26.2], [13.5, -25], [11.8, -21.7], [9.2, -23.9], [7.2, -25.8], [4.5, -26.2], [4.1, -23.2], [2.9, -20.2], [2.1, -17.2]]],
  [25, [[28.3, 1], [29.5, 2], [30.5, 1.5], [30, 0.3], [28.5, 0.3]]],
  [25, [[39, -3], [39.4, -2.3], [39.6, -3.5], [39.2, -4]]],
  [30, [[3.7, -16.1], [8.8, -7.2], [9.6, -5.7], [15.1, -6.8], [16.7, -5], [19.4, -5.4], [23.4, -4.2], [24.8, -5.4], [25.4, -6.1], [29.4, -5.7], [30.5, -8], [33.2, -6.5], [36, -8], [36.4, -10.2], [34.4, -10.6], [33.2, -13.5], [31.3, -15.8], [31.3, -19.5], [31.7, -20.2], [32.8, -22.8], [29.3, -22.5], [27.7, -20.6], [23.8, -21.3], [19.8, -22.1], [20.2, -23.9], [18.3, -25.8], [15.5, -23.6], [14.3, -22.1], [11.2, -20.6], [8.4, -19.9], [6.1, -17.2], [4.9, -16.1]]],
  [25, [[4.5, -9], [8.5, -7], [5.5, -14], [4, -14], [3, -12.5]]],
  [25, [[33, -8], [35, -7.5], [36, -9.5], [34, -10], [32.5, -10]]],
  [30, [[28.5, 1.5], [30, 2.3], [30.5, 1], [29.5, 0.5]]],
  [35, [[4.5, -12.8], [4.7, -10.6], [6.1, -8.7], [8.8, -8.3], [10.4, -6.1], [11.2, -6.8], [10.8, -8.7], [12.4, -10.2], [13.9, -14.3], [16.7, -15.4], [17.1, -16.5], [18.7, -17.6], [18.7, -19.9], [15.1, -19.9], [11.2, -19.1], [8.8, -18.7], [7.6, -16.5], [6.9, -14.6]]],
  [35, [[14.7, -9.8], [15.9, -6.8], [19.8, -5], [21.4, -4.2], [24.6, -4.2], [24.6, -6.1], [26.5, -6.8], [28.9, -5.4], [29.7, -8.3], [30.5, -10.2], [32, -10.9], [30.9, -13.5], [29.7, -15], [28.5, -16.5], [26.9, -18.4], [26.3, -20.2], [24.2, -19.9], [23, -18.4], [20.2, -17.6], [19.8, -14.6], [18.3, -16.1], [16.3, -14.3], [15.1, -12]]],
  [35, [[11, -5.5], [12, -5.5], [12, -6.5], [11.2, -7]]],
  [35, [[16.7, -5], [17.5, -4.8], [18.2, -5.5], [17.5, -6], [16.9, -5.8]]],
  [35, [[24, -2.5], [25, -2], [24.8, -3.3], [24, -3.5]]],
  [35, [[33, -6], [33.8, -6], [33.7, -7], [33, -7]]],
  [35, [[28.8, -20.5], [29.7, -21], [30, -22], [29.3, -21.7]]],
  [35, [[31, -20.5], [32, -21.5], [31, -21.7]]],
  [35, [[29.2, 1.3], [29.5, 2], [29.7, 1.3], [29.4, 0.8]]],
  [35, [[39.2, -2.5], [39.5, -3], [39.2, -3.5], [39, -3]]],
  [40, [[5.3, -12], [5.7, -10.2], [7.2, -9.4], [9.6, -9.1], [10.8, -6.8], [12, -10.2], [13.5, -14.3], [16.3, -15.8], [16.7, -17.2], [18.5, -18.4], [18.3, -19.5], [15.1, -19.5], [11.6, -18.7], [9.2, -18.4], [8, -16.1], [7.6, -14.3]]],
  [40, [[15.1, -10.6], [16.3, -8], [20.2, -6.1], [21.8, -4.6], [23.8, -5.7], [24.2, -9.1], [27.3, -8.3], [28.9, -5.7], [29.3, -8.7], [29.7, -10.6], [30.5, -13.5], [28.5, -16.1], [25.7, -17.2], [24.2, -18], [21, -16.5], [20.2, -14.6], [19.8, -9.8], [18.7, -11.3], [19, -13.5], [17.5, -15], [15.9, -13.5]]],
  [45, [[5.7, -11.3], [6.1, -10.2], [7.2, -10.2], [7.2, -11.3]]],
  [45, [[8.8, -11.3], [10, -10.2], [11.6, -10.6], [13.1, -13.9], [13.5, -15.8], [15.5, -16.5], [15.1, -19.1], [12, -18], [10, -16.1], [9.6, -14.3], [8, -13.5]]],
  [45, [[15.5, -9.8], [17.1, -8.7], [17.5, -10.6], [17.1, -12.4], [18.3, -13.2], [18.7, -14.6], [17.5, -14.6], [16.3, -13.2], [15.9, -11.7]]],
  [45, [[20.6, -6.1], [22.2, -4.6], [23.4, -6.1], [23.4, -9.1], [21.4, -9.1], [20.6, -8]]],
  [45, [[21.8, -11.3], [23.4, -10.2], [27.3, -9.4], [27.7, -7.2], [28.7, -5.4], [29.2, -8.7], [29.3, -13.5], [27.7, -15], [25.4, -15.8], [23.8, -14.3], [23, -12.8]]],
  [50, [[7.4, -11.7], [8.4, -10.6], [11.2, -10.2], [12, -11.3], [9.6, -12.4], [8.8, -13.5]]],
  [50, [[21, -9.4], [22.6, -7.8], [24.6, -9.1], [24.6, -10.6], [22.6, -10.6]]],
  [50, [[27.3, -8.3], [28.5, -6.8], [29.2, -9.1], [27.7, -9.4]]],
  [55, [[7.4, -12.4], [8, -11.3], [9.2, -10.9], [9.6, -12], [8.4, -13.2]]],
  [55, [[21.4, -9.4], [22.6, -8.3], [23.4, -9.1], [22.6, -10.2]]],
  [60, [[21.8, -9], [22.7, -8.6], [22.8, -9.8], [22.2, -10]]],
];
const eSmall: Rows = [
  [0, 31.5], [-6, 23], [-6.5, 24], [-7, 23, 24.5, 25.5, 26, 26.5, 27], [-7.5, 23.5, 24, 25, 25.5, 26, 27], [-8, 23.5, 24, 24.5, 25, 25.5, 26, 26.5, 27], [-8.5, 24, 25, 25.5, 26, 26.5, 27, 27.5],
  [-9, 24, 24.5, 25, 25.5, 26, 26.5, 27, 27.5], [-9.5, 22.5, 23, 24, 24.5, 25, 25.5, 26, 26.5, 27, 27.5, 28], [-10, 23, 24, 25.5, 26.5, 27, 28, 29, 29.5, 30, 30.5],
  [-10.5, 11.5, 12, 20, 24, 24.5, 25, 26, 27, 27.5, 28, 28.5, 29, 30], [-11, 11, 23.5, 24, 24.5, 25, 25.5, 26, 27, 28, 28.5, 29, 30, 30.5, 31],
  [-11.5, 9, 10, 11, 12, 21.5, 22, 22.5, 23, 23.5, 24, 24.5, 26, 26.5, 27, 28, 28.5, 29, 29.5, 33], [-12, 9.5, 10, 10.5, 11, 11.5, 22, 24, 25, 26, 26.5, 27, 28, 29, 30, 34],
  [-12.5, 9.5, 10, 10.5, 11, 11.5, 12, 22.5, 23, 25, 26, 26.5, 27, 28, 28.5, 29, 29.5], [-13, 7, 9, 10, 11, 12, 12.5, 13, 22.5, 23, 23.5, 26, 26.5, 27, 28, 28.5, 29, 29.5, 30, 31],
  [-13.5, 9, 10, 10.5, 12, 12.5, 13, 13.5, 20, 20.5, 21, 22, 22.5, 23, 24, 28, 28.5, 29, 29.5, 30], [-14, 7.5, 8, 8.5, 9, 9.5, 10, 11, 11.5, 12, 12.5, 13, 13.5, 14, 14.5, 15, 20, 21.5, 22, 23, 24, 25.5, 26.5, 27, 28, 29, 30],
  [-14.5, 8, 8.5, 9, 9.5, 10, 10.5, 11, 12, 13, 14, 15, 15.5, 20, 20.5, 22, 24, 27, 28.5, 29.5, 30], [-15, 9, 10, 10.5, 11.5, 13, 14, 14.5, 15, 15.5, 16.5, 18, 22, 25, 25.5, 26, 26.5, 28, 30],
  [-15.5, 6, 8, 9, 9.5, 10, 11.5, 12, 12.5, 13, 14, 15, 16, 16.5, 17, 19, 22, 23, 25.5, 26, 27, 28, 32.5], [-16, 8, 8.5, 9, 9.5, 10, 10.5, 11, 12, 13, 13.5, 14.5, 15, 16, 16.5, 17, 19.5, 22, 25, 27, 28, 28.5, 30, 32.5],
  [-16.5, 4.5, 8, 9, 10, 11, 11.5, 12, 13, 14, 15, 15.5, 16, 17, 17.5, 19, 19.5, 22, 25, 26, 27.5, 28, 28.5, 30, 32.5], [-17, 4.5, 8, 9, 10, 11, 12, 12.5, 13, 13.5, 14.5, 15, 16, 17, 19, 20.5, 21, 22, 24.5, 25, 26, 27, 28, 30],
  [-17.5, 10, 11.5, 12, 13, 14, 16, 17, 18, 22, 23, 26, 27, 28, 29], [-18, 6, 10, 11, 11.5, 13, 14, 15, 16, 17, 18, 22.5, 24.5, 26, 27, 28], [-18.5, 13, 14, 15, 16, 17, 18, 24.5, 25.5, 26.5, 27.5, 28],
  [-19, 8, 9, 9.5, 10, 11, 12, 12.5, 13, 14, 15, 15.5, 16, 17, 18, 18.5, 21, 23.5, 25, 25.5, 26, 27, 30.5], [-19.5, 3, 8, 10, 11, 12, 12.5, 13, 13.5, 14, 15, 16, 16.5, 18, 26],
  [-20, 7.5, 10.5, 11, 11.5, 12, 12.5, 13, 13.5, 14, 15, 16, 16.5, 17, 18, 18.5, 19, 28.5], [-20.5, 10, 11, 12, 12.5, 13, 15, 17.5, 18, 18.5], [-21, 10.5, 11.5, 12, 12.5, 13, 13.5, 15, 17, 17.5, 18, 20, 24],
  [-21.5, 10], [-22, 19], [-22.5, 12, 12.5, 19, 19.5, 3.5], [-23, 12.5, 19.5], [-23.5, 8, 16, 17, 19], [-24, 6, 8, 12, 16, 17.5, 20], [-24.5, 7.5, 14.5, 15, 16, 19, 20], [-25, 14], [-25.5, 7.5, 19], [-26, 4.5, 6, 6.5, 7, 7.5],
  [-26.5, 6.5, 15.5, 16, 17.5], [-27, 16],
];
const eMedium: Rows = [
  [-8, 24, 25.5], [-9, 26], [-9.5, 24], [-10, 25], [-10.5, 20, 25, 28], [-10, 29], [-11.5, 22, 28], [-12, 10], [-13, 23.5], [-13.5, 12.5, 13, 13.5, 20.5, 29.5], [-14, 9, 12, 30], [-14.5, 9.5],
  [-15.5, 16.5, 23.5], [-16, 11, 32.5], [-16.5, 4.5], [-17, 11.5, 14, 19], [-17.5, 10], [-18, 17], [-19, 12, 13], [-19.5, 10, 12.5], [-20, 7.5, 11, 13], [-21, 12, 13], [-22.5, 3.5], [-24, 16], [-24.5, 15.5], [-26, 4.5],
];
const eBig: Rows = [[-15.5, 23.5, 17], [-24, 16], [-20, 12, 11.5], [-17, 14], [-19, 12.5], [-9.5, 24]];

// 21:44
const fLayers: Layer[] = [
  [0, [[-3.5, -21], [-3.5, -19.5], [-2.5, -18.7], [-1, -17], [0.5, -16.5], [1, -17], [-1, -19], [-2.5, -20.5]]],
  [0, [[-1.5, -26], [-1.5, -27.5], [-0.5, -27.5], [-0.5, -26]]],
  [0, [[12, -31], [13, -33], [13.5, -32], [13, -30]]],
  [0, [[9, -1.7], [14.5, 0.8], [15.7, 0.7], [16, 0], [13, -0.5], [10, -2.5], [8, -2]]],
  [0, [[31, -1.5], [32.5, 0.8], [33.5, 0.5], [32.5, -1]]],
  [0, [[31.5, -23.5], [33.5, -23.3], [35, -23], [35.5, -22], [33, -22.5]]],
  [5, [[-3.1, -20.2], [-0.7, -17.2], [0.7, -16.1], [2.2, -18.7], [5, -19.5], [4.6, -23.2], [1.7, -23.2], [2.9, -26.5], [4.3, -27.7], [4.1, -29.5], [1.2, -29.9], [0, -28], [-1, -25.8], [0, -23.9], [-1.2, -21]]],
  [5, [[8.7, -27.7], [8.9, -25], [22.4, -26.2], [21.4, -27.1], [15.6, -27.7], [13.2, -31.7], [12.3, -31.7], [11.1, -29.1]]],
  [5, [[7, -3.5], [8.4, -1.6], [10.3, -2.6], [14.7, 0.6], [16.6, 0.6], [10.3, -5], [7.5, -4.2]]],
  [10, [[-3.8, -6.8], [-3.1, -4.2], [-0.2, 0], [2.2, -0.5], [5, -3.1], [7.9, -3.5], [10.8, -2.4], [14.7, 0.2], [18.5, 1], [20.4, 5.8], [23.3, 4.7], [27, 2.1], [31, 0.8], [30, -0.5], [32.5, 0.2], [38.2, -2], [40.6, -3.5], [39.7, -4.4], [38.2, -5.4], [37.2, -8], [37.2, -10.9], [35.3, -11.3], [35.1, -14.6], [33.4, -16.9], [35.3, -19.1], [35.3, -22.1], [32, -23.2], [29.1, -21.3], [24.3, -22.5], [21.9, -23.9], [22.1, -27.1], [18.5, -26.2], [13.7, -27.7], [11.3, -28.8], [8.9, -26.5], [8.9, -24.7], [6.3, -25], [3.6, -23.2], [0.7, -13.9], [3.6, -9.4], [2.2, -7.2], [-1, -8.3], [-2.6, -8]]],
  [10, [[0.7, -17.6], [4.1, -19.1], [4.6, -22.5], [3.4, -23.2], [1.2, -23.2], [1.7, -16.5]]],
  [10, [[0.3, -26.5], [2, -25], [3, -26.5], [4.2, -27.5], [4, -29.3], [1.5, -29.7], [0.5, -28.5]]],
  [15, [[2.2, -22], [2.5, -19], [4, -20], [5, -21], [4.5, -23], [3, -23]]],
  [15, [[0.5, -27], [2, -25], [3, -27], [4, -27.5], [3.8, -29], [2, -29.5], [1, -29]]],
  [15, [[8.7, -25.8], [12.3, -22.5], [13.7, -25], [16.6, -26.2], [22.4, -26.2], [15.6, -26.9], [12.3, -28.8], [10.3, -28]]],
  [15, [[0.4, -13], [1.5, -12.5], [2.5, -14], [2, -16.5], [3.5, -18], [1.5, -17.5], [0.5, -16]]],
  [15, [[5, -3.3], [10.8, -2.8], [14.7, -0.1], [16.6, -0.1], [14.2, -2.4], [10.3, -5], [7.5, -4.2]]],
  [15, [[28.6, -3.1], [31, -0.5], [32.9, -0.1], [37.8, -1.6], [32.9, -1.3], [30, -3.1], [28.1, -3.5], [26.7, -4.6]]],
  [15, [[24.3, -21.3], [29.1, -20.2], [32, -22.5], [35.3, -22], [35, -21], [32, -22], [29, -21]]],
  [20, [[-3.6, -6.8], [-2.9, -4.4], [-0.2, -0.3], [2.2, -0.9], [4.6, -3.3], [7.5, -4.1], [10.3, -5.4], [14.2, -2.8], [16.6, -0.3], [18, 0.6], [20.4, 5.6], [23.3, 4.5], [24.3, 2.5], [24.8, 0.6], [26.9, 0.4], [27.2, 2.1], [30.5, 0.8], [28.1, -1.3], [26.7, -4.6], [28.6, -3.3], [31, -1.3], [33.4, -1.3], [37.7, -2], [40.6, -3.5], [38.5, -4.4], [37.7, -6.1], [37, -8.3], [37, -11.1], [34.4, -12.4], [34.6, -14.3], [32.9, -16.5], [35.1, -19.1], [35, -21.7], [32, -22.8], [29.1, -20.8], [24.3, -22.3], [21.9, -23.6], [22.1, -26.5], [18.5, -25.8], [14.2, -25.6], [12.3, -22.8], [8.9, -24.1], [6.3, -24.7], [3.6, -21.7], [2.6, -18.7], [2.2, -15.4], [1.2, -12.8], [3.1, -9.4], [1.9, -6.8], [-1.2, -8.5], [-2.9, -8]]],
  [20, [[0, -27], [1.5, -26.8], [1, -28.5], [0.5, -28.2]]],
  [15, [[24.8, 1.7], [26.2, 2.5], [26.9, 0.6], [25.5, 0.4]]],
  [25, [[-2.6, -6.8], [-2.2, -4.4], [0, -0.5], [2.2, -1.4], [4.1, -3.5], [7, -5], [10.3, -6.1], [14.2, -4.6], [15.6, -1.3], [18, -0.1], [20.4, 5.4], [23.3, 3.2], [23.3, 1], [26.7, -0.1], [27.6, 1.7], [29.9, 0.6], [27.6, -1.6], [26.2, -5.4], [30, -4.2], [32, -2.4], [35.8, -3.1], [37.7, -3.5], [36.3, -6.1], [36.8, -9.8], [33.9, -12.4], [33.7, -15], [32, -16.5], [34.4, -19.5], [35, -21], [32, -22.3], [29.1, -19.9], [24.8, -21.3], [22.4, -23.2], [20.4, -25.2], [14.2, -24.9], [12.7, -21.7], [7.5, -23.9], [5.5, -21.7], [3.1, -18], [1.7, -12.8], [3.8, -9.4], [2.2, -6.1], [-1.2, -8]]],
  [30, [[-2.4, -6.8], [-1.9, -4.6], [0, -0.7], [1.9, -2], [4.1, -3.9], [6.5, -5.7], [10.3, -5.7], [10.8, -3.9], [14.7, -4.2], [15.6, -1.3], [18.5, -0.1], [20.4, 4.7], [23.3, 2.5], [23.3, 0.6], [26.2, -0.5], [28.1, 1.5], [29.6, 0.6], [27.2, -1.3], [26.2, -5.4], [29.6, -5.4], [34.4, -5.4], [34.9, -8], [32, -12.4], [29.6, -13.5], [29.8, -16.5], [28.1, -17.2], [30.5, -18.7], [26.7, -19.9], [22.8, -19.9], [20.4, -21.7], [17.5, -23.2], [14.2, -22.5], [10.3, -19.9], [7.5, -18.7], [6, -15.8], [4.6, -12], [4.6, -9.4], [2.4, -6.8], [-1.2, -7.8]]],
  [25, [[30, -14.5], [32, -13], [33, -15], [31.5, -16.5], [30, -16]]],
  [25, [[11, -4.5], [13, -5], [14, -5.8], [12, -6.5], [10.5, -5.5]]],
  [35, [[-2.4, -6.1], [-1.2, -2], [0.2, -0.3], [1.7, -1.6], [4.1, -4.6], [6.5, -6.1], [8.4, -8.7], [10.8, -9.1], [13.7, -7.6], [16.6, -6.5], [17.5, -6.1], [15.6, -1.6], [17.1, -1.3], [18.5, -0.5], [20.4, 3.9], [22.8, 2.1], [23.3, 0.2], [26.2, -0.5], [24.8, -5.4], [26.2, -6.1], [31, -5.4], [34.4, -5.2], [34.6, -7.2], [32, -10.6], [29.6, -10.6], [29.6, -13.5], [26.2, -14.3], [24.8, -14.6], [24.8, -17.2], [21.9, -17.1], [18, -15.8], [17.1, -18], [15.6, -19.9], [12.3, -19.1], [9.9, -19.1], [10.3, -17.2], [9.4, -14.6], [6.5, -13.2], [5.5, -10.9], [2.6, -8], [-1.2, -7.8]]],
  [30, [[13.7, -11], [15, -10.5], [15, -12], [13.8, -12.5]]],
  [30, [[19, -13], [21.5, -13.5], [24, -14.8], [21, -16], [18.5, -15]]],
  [30, [[19, -7], [20, -5], [20.5, -6.5], [19.5, -7.5]]],
  [30, [[10.5, -15.5], [12.5, -15], [14, -16], [12, -17]]],
  [40, [[-2.2, -6.5], [-1, -2.4], [0.5, -0.9], [1.7, -2.4], [2.6, -6.5], [-0.2, -7.6]]],
  [40, [[3.4, -7.2], [4.1, -5.4], [7, -6.8], [8.4, -9.8], [7, -12.4], [6, -10.9]]],
  [40, [[18.5, 0.6], [19.7, 4.7], [21.4, 4.7], [22.4, 2.1], [22.4, -0.9], [24.8, -3.5], [23.8, -5.7], [21.4, -6.5], [20.9, -4.6], [21.4, -2.4], [19, -1.3]]],
  [40, [[27.6, 1.7], [29.5, 0.8], [28.5, -0.5]]],
  [40, [[15.9, -3], [17.3, -2.5], [18, -4.5], [17, -5.5], [16, -4.5]]],
  [40, [[25.7, -6.5], [28.1, -6.1], [29.8, -5.7], [30, -8.3], [28.6, -11.3], [25.2, -12.4], [23.8, -10.6], [20.9, -9.8], [23.3, -8.3]]],
  [40, [[15, -10], [17, -9], [18.5, -11], [18, -13], [16, -12.5]]],
  [40, [[8, -9.5], [10, -9], [11.5, -11.5], [13, -13], [11, -14], [9, -13]]],
  [45, [[-1.7, -6.5], [-0.7, -3.1], [0.7, -1.6], [1.7, -3.1], [2.2, -6.1], [-0.7, -7.2]]],
  [45, [[4.1, -6.5], [5, -6.1], [7, -7.6], [7.7, -9.4], [6, -9.4]]],
  [45, [[19, 0.6], [20, 3.9], [21.2, 3.6], [21.9, -0.5], [23.8, -4.2], [22.8, -6.1], [21.4, -5.4], [21.9, -3.1], [19.5, -0.5]]],
  [45, [[28.3, 1.5], [29.3, 0.9], [28.7, -0.2]]],
  [45, [[27, -7], [29.5, -7], [29.8, -9.5], [28, -10], [26.5, -9]]],
  [45, [[25, -8], [26.5, -8.5], [26, -11], [24.5, -11]]],
  [50, [[-1.9, -6.5], [-0.7, -4.2], [1, -2], [1.9, -4.6], [2.2, -6.1], [-0.7, -7.2]]],
  [50, [[4.6, -6.8], [5.8, -6.5], [6.5, -8], [5.5, -8]]],
  [50, [[19, 0.6], [20, 3.2], [20.9, 2.8], [21.4, 1.3], [19.5, 0.2]]],
  [55, [[-2.2, -6.5], [-0.7, -5.4], [0.7, -3.1], [1.9, -5.1], [1.7, -6.5], [-0.2, -7.2]]],
  [55, [[5, -6.8], [5.8, -7], [6, -7.6], [5.3, -7.8]]],
  [60, [[0.2, -5.5], [0.8, -5.2], [0.8, -6], [0.2, -6.2]]],
];
const fSmall: Rows = [
  [-0.5, 26, 26.5], [-1, 17.5, 26.5], [-1.5, 24, 24.5, 25, 25.5, 26.5, 28.5], [-2, 26], [-3, 19], [-3.5, 25.5], [-4, 23.5], [-4.5, 28], [-5, 18, 21, 21.5, 23.5], [-5.5, 9, 19, 22.5, 23, 24, 25],
  [-6, 19, 19.5, 20, 22.5, 23.5, 25.5, 36.5], [-6.5, 18, 18.5, 23, 24, 26.5], [-7, 18, 18.5, 20.5, 23, 23.5, 24, 24.5, 26.5],
  [-7.5, 8.5, 9, 17, 17.5, 20, 20.5, 22.5, 23, 24, 25, 26, 26.5, 27, 27.5, 28, 28.5, 32.5, 33.5, 34, 34.5, 35, 35.5, 36],
  [-8, 10, 15, 20.5, 22, 22.5, 23, 23.5, 24, 24.5, 25, 25.5, 26, 26.5, 27, 27.5, 28, 29, 30.5, 31.5], [-8.5, 9.5, 10.5, 16, 22.5, 23, 24, 24.5, 25, 26, 26.5, 27, 28, 29, 29.5, 30],
  [-9, 9, 9.5, 10, 16, 19.5, 20, 20.5, 21, 22, 23, 24, 25, 25.5, 26, 27, 28, 29, 30], [-9.5, 8, 8.5, 9, 10, 15.5, 17, 19, 19.5, 20, 20.5, 21, 21.5, 22, 22.5, 23, 24, 25, 26, 27, 27.5, 28, 28.5, 29, 29.5, 30],
  [-10, 8.5, 9, 10, 11, 15.5, 16, 17, 17.5, 21, 22, 22.5, 23, 24, 25, 26, 27.5, 28, 28.5, 29], [-10.5, 8, 9, 10, 11, 15.5, 16, 16.5, 18, 21, 22, 23, 24, 25, 25.5, 26, 28, 29],
  [-11, 8, 9, 9.5, 10, 11, 11.5, 15.5, 16, 17, 18, 20, 21, 22, 23, 24, 25, 26, 27.5, 28, 29, 29.5], [-11.5, 8, 8.5, 9, 10, 11, 12, 15.5, 16, 17, 18, 20.5, 22, 23, 24, 25, 27, 28, 28.5, 29, 30],
  [-12, 7.5, 9, 10, 11, 12, 16, 17, 21, 22, 23, 24, 26, 27, 28, 29, 29.5], [-12.5, 8.5, 9, 10, 11, 12, 13, 17, 19, 20, 21, 23, 24, 25, 27, 28, 29, 30],
  [-13, 6, 8.5, 9, 10, 11, 12, 13, 14, 19, 21, 23, 24, 25, 26, 28, 29, 30], [-13.5, 8, 9, 10, 11, 11.5, 12, 13, 14, 16.5, 17, 19, 20, 22, 23, 24, 25, 26, 28, 29, 30, 32],
  [-14, 8, 9, 10, 11, 12, 13, 14, 15, 16, 17, 18, 20, 21, 23, 24, 25, 26, 27, 28, 29, 30, 32], [-14.5, 8.5, 9, 10, 11, 12, 13, 14, 15, 16, 17, 21, 22, 27, 28, 29, 30],
  [-15, 9, 10, 11, 12, 13, 14, 15, 16, 17, 18, 22, 26, 27, 28, 29, 30, 30.5], [-15.5, 4.5, 10, 11, 12, 13, 14, 15, 16, 17, 19, 20, 21, 22, 26, 30, 31],
  [-16, 5, 9, 9.5, 10, 11, 12, 13, 14, 15, 16, 17, 20, 21, 23, 26, 28, 30], [-16.5, 5, 9, 10, 11, 12, 13, 14, 15, 18, 19, 20, 21, 22, 23, 26, 28, 33],
  [-17, 7.5, 11, 11.5, 12, 13, 14, 15, 17, 18, 20, 24, 26, 26.5, 31], [-17.5, 7, 8, 10.5, 11, 12, 13, 14, 17, 25, 26.5, 29, 29.5, 30],
  [-18, 8, 9, 9.5, 10, 11, 12, 14, 15, 16, 17, 28, 29, 30, 30.5], [-18.5, 9, 10, 12, 13, 14, 15, 16, 17, 17.5, 30, 32], [-19, 8, 8.5, 9, 9.5, 11, 12, 12.5, 14, 15, 16, 17, 17.5, 18, 21, 22, 26],
  [-19.5, 5, 8, 10, 11, 12.5, 14, 15, 16, 25.5, 26, 26.5], [-20, 6, 6.5, 8, 10, 13, 14, 15, 16, 17, 18, 19.5, 22], [-20.5, 5.5, 6, 6.5, 7, 8, 10.5, 13, 13.5, 14, 14.5, 15, 15.5, 16, 19, 20, 20.5, 21, 25.5],
  [-21, 5, 6, 7, 8, 10, 10.5, 15, 15.5, 16, 17.5, 18, 18.5, 19, 20], [-21.5, 5, 5.5, 7.5, 8, 10, 10.5, 11, 15.5, 16, 18.5], [-22, 5, 10.5, 11, 14, 19, 20], [-22.5, 5, 18.5, 19],
  [-23, 5, 9.5, 10.5, 13.5, 17, 19], [-23.5, 6, 16.5, 19], [-24, 9.5],
];
const fMedium: Rows = [
  [-1, 26], [-4.5, 2.5], [-5, 2.5], [-7, 24.5, 25], [-7.5, 17], [-8, 25.5, 27], [-8.5, 16], [-9, 16.5, 19.5], [-9.5, 8, 9, 29], [-10, 10], [-10.5, 11, 15.5], [-11, 20], [-11.5, 11, 21], [-12, 7.5, 11.5, 26],
  [-12.5, 12], [-13, 10], [-13.5, 27.5], [-14.5, 12, 22], [-15, 30.5], [-15.5, 4.5], [-17, 7.5], [-17.5, 8], [-18.5, 17], [-19, 12.5, 16], [-19.5, 5],
];
const fBig: Rows = [[-1, 26], [-15, 30.5], [-12.5, 12], [-4.5, 2.5], [-19.5, 5]];

const panelLayers = [aLayers, bLayers, cLayers, dLayers, eLayers, fLayers];
const panelSmall = [aSmall, bSmall, cSmall, dSmall, eSmall, fSmall];
const panelMedium = [aMedium, bMedium, cMedium, dMedium, eMedium, fMedium];
const panelBig = [aBig, bBig, cBig, dBig, eBig, fBig];

const panelLefts = [154, 1119, 2084];
const panelTops = [63, 1022];
const panelW = 856;
const panelH = 834;
const serif = "'Liberation Serif', serif";

const App = () => {
  const svgRef = useRef<SVGSVGElement>(null);

  useEffect(() => {
    const svg = d3.select(svgRef.current);
    svg.selectAll("*").remove();
    const x = d3.scaleLinear().domain([-5, 50]).range([0, panelW]);
    const y = d3.scaleLinear().domain([-42, 6]).range([panelH, 0]);
    const color = (level: number) => levelColors[levels.indexOf(level)];
    const outline = d3
      .line<number[]>()
      .x((d) => x(d[0]))
      .y((d) => y(d[1]))
      .curve(d3.curveCardinalClosed.tension(0.6));

    times.forEach((time, i) => {
      const col = i % 3;
      const row = Math.floor(i / 3);
      const g = svg
        .append("g")
        .attr("transform", `translate(${panelLefts[col]},${panelTops[row]})`);

      svg
        .append("clipPath")
        .attr("id", `clip${i}`)
        .append("rect")
        .attr("width", panelW)
        .attr("height", panelH);

      const plot = g.append("g").attr("clip-path", `url(#clip${i})`);

      plot
        .selectAll("path.level")
        .data(panelLayers[i])
        .enter()
        .append("path")
        .attr("class", "level")
        .attr("d", (d) => outline(d[1]))
        .attr("fill", (d) => color(d[0]))
        .attr("stroke", (d) => (d[0] === 20 ? "#0a6cf0" : d[0] === 10 ? "#00ccff" : "none"))
        .attr("stroke-width", (d) => (d[0] === 20 ? 3.5 : d[0] === 10 ? 3 : 0))
        .attr("stroke-linejoin", "round");

      // lightning sources, grouped by size
      const flat = (rows: Rows) => rows.flatMap(([yy, ...xs]) => xs.map((xx) => [xx, yy]));
      const drawDots = (rows: Rows, r: number, sw: number) => {
        plot
          .append("g")
          .selectAll("circle")
          .data(flat(rows))
          .enter()
          .append("circle")
          .attr("cx", (d) => x(d[0]))
          .attr("cy", (d) => y(d[1]))
          .attr("r", r)
          .attr("fill", "#f4f4f4")
          .attr("stroke", "#111111")
          .attr("stroke-width", sw);
      };
      drawDots(panelSmall[i], 3.6, 2.6);
      drawDots(panelMedium[i], 6.5, 2.2);
      drawDots(panelBig[i], 10, 2);

      const dash = dashLines[i];
      plot
        .append("line")
        .attr("x1", x(dash[0][0]))
        .attr("y1", y(dash[0][1]))
        .attr("x2", x(dash[1][0]))
        .attr("y2", y(dash[1][1]))
        .attr("stroke", "#000000")
        .attr("stroke-width", 6)
        .attr("stroke-dasharray", "25 14");

      if (arrows[i]) {
        const [from, to] = arrows[i];
        const x1 = x(from[0]);
        const y1 = y(from[1]);
        const x2 = x(to[0]);
        const y2 = y(to[1]);
        const angle = Math.atan2(y2 - y1, x2 - x1);
        const head = 20;
        const neckX = x2 - head * Math.cos(angle);
        const neckY = y2 - head * Math.sin(angle);
        plot
          .append("line")
          .attr("x1", x1)
          .attr("y1", y1)
          .attr("x2", neckX)
          .attr("y2", neckY)
          .attr("stroke", "#000000")
          .attr("stroke-width", 5);
        plot
          .append("polygon")
          .attr(
            "points",
            [
              [x2, y2],
              [neckX - 9 * Math.sin(angle), neckY + 9 * Math.cos(angle)],
              [neckX + 9 * Math.sin(angle), neckY - 9 * Math.cos(angle)],
            ].join(" "),
          )
          .attr("fill", "#000000");
      }

      const xAxis = g
        .append("g")
        .attr("transform", `translate(0,${panelH})`)
        .call(d3.axisBottom(x).tickValues(xTicks).tickSize(-8).tickPadding(16));
      const yAxis = g
        .append("g")
        .call(d3.axisLeft(y).tickValues(yTicks).tickSize(-8).tickPadding(16));
      [xAxis, yAxis].forEach((axis) => {
        axis.select(".domain").remove();
        axis.selectAll("line").attr("stroke", "#222222").attr("stroke-width", 2.5);
        axis
          .selectAll("text")
          .attr("fill", "#000000")
          .attr("font-family", serif)
          .attr("font-weight", "bold")
          .attr("font-size", 42);
      });

      g.append("rect")
        .attr("width", panelW)
        .attr("height", panelH)
        .attr("fill", "none")
        .attr("stroke", "#333333")
        .attr("stroke-width", 3);

      g.append("text")
        .attr("x", panelW / 2)
        .attr("y", -17)
        .attr("text-anchor", "middle")
        .attr("font-family", serif)
        .attr("font-size", 42)
        .text(time);

      g.append("text")
        .attr("x", 16)
        .attr("y", 65)
        .attr("font-family", serif)
        .attr("font-weight", "bold")
        .attr("font-size", 42)
        .text(tags[i]);

      if (row === 1) {
        g.append("text")
          .attr("x", panelW / 2)
          .attr("y", panelH + 98)
          .attr("text-anchor", "middle")
          .attr("font-family", serif)
          .attr("font-weight", "bold")
          .attr("font-size", 44)
          .text("West-east (units: km)");
      }
      if (col === 0) {
        g.append("text")
          .attr("transform", `translate(-100,${panelH / 2 - 1}) rotate(-90)`)
          .attr("text-anchor", "middle")
          .attr("font-family", serif)
          .attr("font-weight", "bold")
          .attr("font-size", 44)
          .text("South-north (units: km)");
      }
    });

    // colour bar
    const cbar = svg.append("g").attr("transform", "translate(3057,187)");
    const cy = d3.scaleLinear().domain([0, 70]).range([1596, 0]);
    cbar
      .selectAll("rect.seg")
      .data(levels)
      .enter()
      .append("rect")
      .attr("class", "seg")
      .attr("y", (d) => cy(d + 5))
      .attr("width", 48)
      .attr("height", cy(0) - cy(5))
      .attr("fill", (d) => color(d));
    cbar
      .append("rect")
      .attr("width", 48)
      .attr("height", 1596)
      .attr("fill", "none")
      .attr("stroke", "#333333")
      .attr("stroke-width", 3);
    const cAxis = cbar
      .append("g")
      .attr("transform", "translate(48,0)")
      .call(d3.axisRight(cy).tickValues(colorTicks).tickSize(-8).tickPadding(18));
    cAxis.select(".domain").remove();
    cAxis.selectAll("line").attr("stroke", "#222222").attr("stroke-width", 2.5);
    cAxis
      .selectAll("text")
      .attr("fill", "#000000")
      .attr("font-family", serif)
      .attr("font-weight", "bold")
      .attr("font-size", 42);
  }, []);

  return (
    <svg
      ref={svgRef}
      width={3177}
      height={1974}
      style={{ position: "absolute", left: 0, top: 0, background: "#ffffff" }}
    />
  );
};

export default App;
